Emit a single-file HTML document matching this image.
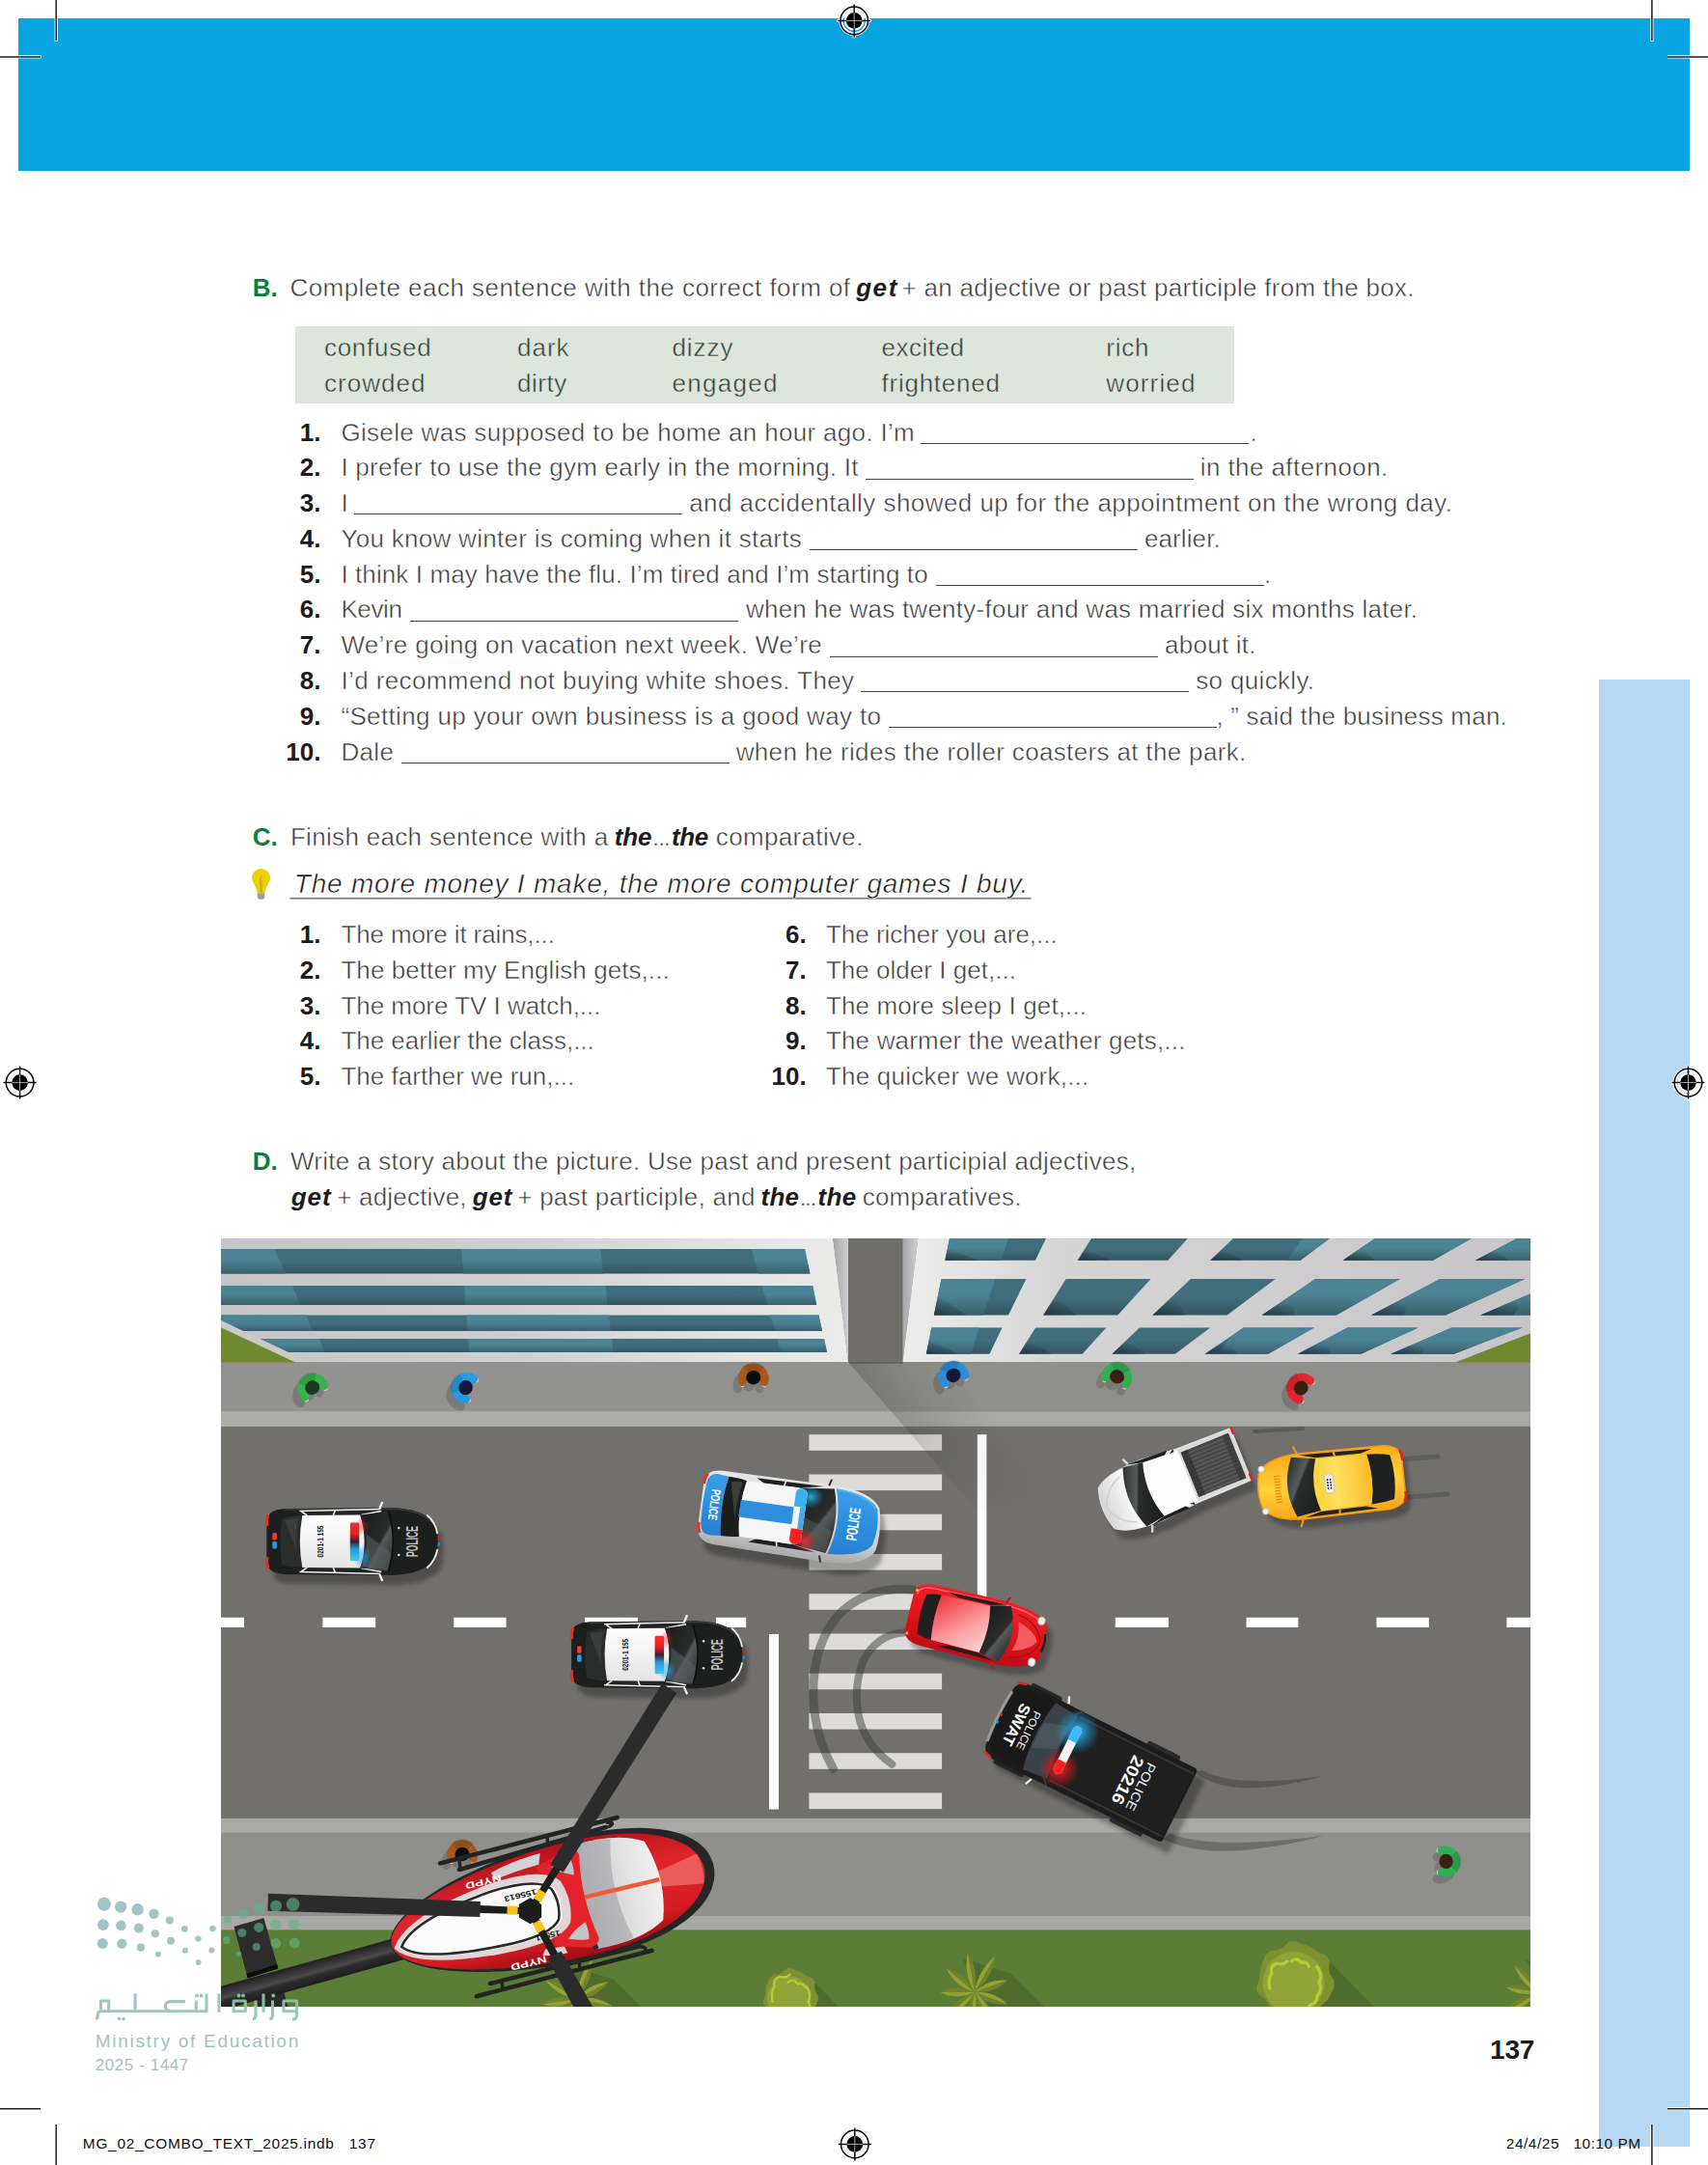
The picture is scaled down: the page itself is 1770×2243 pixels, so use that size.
<!DOCTYPE html>
<html lang="en">
<head>
<meta charset="utf-8">
<title>Page 137</title>
<style>
html,body{margin:0;padding:0;background:#fff;}
body{width:1770px;height:2243px;position:relative;overflow:hidden;font-family:"Liberation Sans",sans-serif;}
.abs{position:absolute;}
.t{position:absolute;white-space:pre;line-height:1;margin:0;padding:0;}
.bl{position:absolute;height:0;border-top:1.6px solid #444;}
.cm{position:absolute;background:#231f20;}
.r{font-size:26px;font-weight:400;font-style:normal;color:#3a3a3a;-webkit-text-stroke:0.45px #fff;}
.rb{font-size:26px;font-weight:400;font-style:normal;color:#3a3a3a;-webkit-text-stroke:0.45px #dce6da;}
.b{font-size:26px;font-weight:700;font-style:normal;color:#1c1c1c;}
.g{font-size:26px;font-weight:700;font-style:normal;color:#0b8035;}
.bi{font-size:26px;font-weight:700;font-style:italic;color:#1c1c1c;}
.hw{font-size:28px;font-weight:400;font-style:italic;color:#1a1a1a;-webkit-text-stroke:0.5px #fff;}
.ft{font-size:15.4px;font-weight:400;font-style:normal;color:#111;}
.pn{font-size:28px;font-weight:700;font-style:normal;color:#1c1c1c;}
.mn{font-size:19px;font-weight:400;font-style:normal;color:#9fc3c0;}
.mn2{font-size:17px;font-weight:400;font-style:normal;color:#9fc3c0;}
</style>
</head>
<body>
<!-- top banner -->
<div class="abs" style="left:19px;top:19px;width:1732px;height:158px;background:#08a5e2"></div>
<!-- side strip -->
<div class="abs" style="left:1656.5px;top:704px;width:94.5px;height:1520px;background:#b7d8f2"></div>
<!-- word box -->
<div class="abs" style="left:306px;top:338px;width:973px;height:80px;background:#dce6da"></div>
<svg class="abs" style="left:229px;top:1283px" width="1357" height="796" viewBox="229 1283 1357 796" font-family="Liberation Sans, sans-serif">
<defs>
<linearGradient id="fL" x1="0" y1="0" x2="1" y2="0"><stop offset="0" stop-color="#c6c5c6"/><stop offset="0.45" stop-color="#cfcecf"/><stop offset="0.8" stop-color="#e2e2e2"/><stop offset="1" stop-color="#ebebea"/></linearGradient>
<linearGradient id="fR" x1="0" y1="0" x2="1" y2="0"><stop offset="0" stop-color="#ededec"/><stop offset="0.25" stop-color="#d6d5d6"/><stop offset="1" stop-color="#c7c5c7"/></linearGradient>
<linearGradient id="wl" x1="0" y1="0" x2="1" y2="0"><stop offset="0" stop-color="#a6a6a8"/><stop offset="1" stop-color="#cfcfd1"/></linearGradient>
<linearGradient id="gl" x1="0" y1="0" x2="0" y2="1"><stop offset="0" stop-color="#4a8494"/><stop offset="0.45" stop-color="#4b8394"/><stop offset="1" stop-color="#3a5f6b"/></linearGradient>
<linearGradient id="gd" x1="0" y1="0" x2="0" y2="1"><stop offset="0" stop-color="#3f6f7e"/><stop offset="0.5" stop-color="#416d7c"/><stop offset="1" stop-color="#34555f"/></linearGradient>
<linearGradient id="shd" gradientUnits="userSpaceOnUse" x1="879" y1="1411" x2="936" y2="1362"><stop offset="0" stop-color="#000" stop-opacity="0.16"/><stop offset="0.5" stop-color="#000" stop-opacity="0.07"/><stop offset="1" stop-color="#000" stop-opacity="0"/></linearGradient>
<linearGradient id="shf" gradientUnits="userSpaceOnUse" x1="0" y1="1411" x2="0" y2="1620"><stop offset="0" stop-color="#fff" stop-opacity="1"/><stop offset="0.35" stop-color="#fff" stop-opacity="0.8"/><stop offset="0.75" stop-color="#fff" stop-opacity="0"/></linearGradient>
<mask id="shm" maskUnits="userSpaceOnUse" x="229" y="1283" width="1357" height="796"><rect x="229" y="1405" width="1357" height="230" fill="url(#shf)"/></mask>
<linearGradient id="wsd" x1="0" y1="1" x2="0.45" y2="0.2"><stop offset="0" stop-color="#1c3038" stop-opacity="0.8"/><stop offset="1" stop-color="#1c3038" stop-opacity="0"/></linearGradient>
<linearGradient id="roofW" x1="0" y1="0" x2="0" y2="1"><stop offset="0" stop-color="#ffffff"/><stop offset="1" stop-color="#e4e4e4"/></linearGradient>
<linearGradient id="wsh" x1="0" y1="0" x2="1" y2="1"><stop offset="0" stop-color="#1a1b1b"/><stop offset="0.55" stop-color="#2a2c2c"/><stop offset="0.6" stop-color="#555a5a"/><stop offset="1" stop-color="#232424"/></linearGradient>
<linearGradient id="lbar" x1="0" y1="0" x2="0" y2="1"><stop offset="0" stop-color="#ff2a2a"/><stop offset="0.3" stop-color="#e81c24"/><stop offset="0.5" stop-color="#3a2030"/><stop offset="0.7" stop-color="#1fa0dc"/><stop offset="1" stop-color="#45c4f5"/></linearGradient>
<linearGradient id="blu" x1="0" y1="0" x2="0" y2="1"><stop offset="0" stop-color="#3aa0e8"/><stop offset="0.5" stop-color="#2b8fe0"/><stop offset="1" stop-color="#2a7fd0"/></linearGradient>
<linearGradient id="silv" x1="0" y1="0" x2="0" y2="1"><stop offset="0" stop-color="#e6e6e6"/><stop offset="0.7" stop-color="#d0d0d0"/><stop offset="1" stop-color="#a8a8a8"/></linearGradient>
<linearGradient id="yel" x1="0" y1="0" x2="0" y2="1"><stop offset="0" stop-color="#f7a518"/><stop offset="0.5" stop-color="#ffd23c"/><stop offset="1" stop-color="#f9ab18"/></linearGradient>
<linearGradient id="yel2" x1="0" y1="0" x2="1" y2="0"><stop offset="0" stop-color="#fdbb28"/><stop offset="0.6" stop-color="#ffe060"/><stop offset="1" stop-color="#ffd23c"/></linearGradient>
<linearGradient id="red" x1="0" y1="0" x2="0" y2="1"><stop offset="0" stop-color="#f0202a"/><stop offset="0.5" stop-color="#e0141e"/><stop offset="1" stop-color="#c00c14"/></linearGradient>
<linearGradient id="redroof" x1="0" y1="0" x2="1" y2="1"><stop offset="0" stop-color="#f0303a"/><stop offset="0.6" stop-color="#fba0a4"/><stop offset="1" stop-color="#fdd8d8"/></linearGradient>
<linearGradient id="whiteh" x1="0" y1="0" x2="1" y2="0"><stop offset="0" stop-color="#ffffff"/><stop offset="1" stop-color="#d4d4d4"/></linearGradient>
<linearGradient id="boom" gradientUnits="userSpaceOnUse" x1="314.2" y1="2035.5" x2="320.6" y2="2058.6"><stop offset="0" stop-color="#232323"/><stop offset="0.45" stop-color="#4a4a4a"/><stop offset="0.6" stop-color="#2c2c2c"/><stop offset="1" stop-color="#1a1a1a"/></linearGradient>
<linearGradient id="hred" x1="0" y1="0" x2="0" y2="1"><stop offset="0" stop-color="#b5121a"/><stop offset="0.35" stop-color="#e0242c"/><stop offset="0.75" stop-color="#d81c24"/><stop offset="1" stop-color="#a00c14"/></linearGradient>
<linearGradient id="hglass" x1="0" y1="0" x2="1" y2="0"><stop offset="0" stop-color="#b8b8ba"/><stop offset="0.5" stop-color="#dcdcdc"/><stop offset="1" stop-color="#f2f2f2"/></linearGradient>
<radialGradient id="glowB"><stop offset="0" stop-color="#40c8ff" stop-opacity="0.95"/><stop offset="0.5" stop-color="#1fa0e0" stop-opacity="0.55"/><stop offset="1" stop-color="#1fa0e0" stop-opacity="0"/></radialGradient>
<radialGradient id="glowR"><stop offset="0" stop-color="#ff3030" stop-opacity="0.95"/><stop offset="0.5" stop-color="#e01818" stop-opacity="0.55"/><stop offset="1" stop-color="#e01818" stop-opacity="0"/></radialGradient>
<filter id="bl2" x="-20%" y="-20%" width="140%" height="140%"><feGaussianBlur stdDeviation="2"/></filter>
<filter id="bl4" x="-20%" y="-20%" width="140%" height="140%"><feGaussianBlur stdDeviation="3.5"/></filter>
<clipPath id="pc"><rect x="229" y="1283" width="1357" height="796"/></clipPath>
<clipPath id="rb"><polygon points="951.3,1283 1586,1283 1586,1381.5 1509,1411 935.5,1411"/></clipPath>
<clipPath id="lightR"><polygon points="1350,1283 1600,1283 1600,1420 1250,1420"/></clipPath>
<clipPath id="lightL"><polygon points="900,1283 1045,1283 1003,1412 900,1412"/></clipPath>
</defs>
<g clip-path="url(#pc)">
<rect x="229" y="1283" width="1357" height="796" fill="#71706d"/>
<rect x="229" y="1405" width="1357" height="57.3" fill="#8f8f8b"/>
<rect x="229" y="1462.3" width="1357" height="15.5" fill="#a8a8a4"/>
<rect x="229" y="1883.9" width="1357" height="15" fill="#a8a8a4"/>
<rect x="229" y="1898.9" width="1357" height="85.7" fill="#8f8f8b"/>
<rect x="229" y="1984.6" width="1357" height="15" fill="#a8a8a4"/>
<rect x="229" y="1999.6" width="1357" height="80" fill="#5b7d35"/>
<rect x="878" y="1283" width="58" height="130" fill="#6f6e6b"/>
<polygon points="229,1411 879,1411 924,1462.3 229,1462.3" fill="#929290"/>
<polygon points="924,1462.3 938,1477.8 229,1477.8 229,1462.3" fill="#acaca8"/>
<polygon points="229,1283 863.3,1283 879,1411 229,1411" fill="url(#fL)"/>
<polygon points="863.3,1283 879,1283 879,1411" fill="url(#wl)"/>
<polygon points="229,1294.1 834,1294.1 839.4,1319.6 229,1319.6" fill="url(#gd)"/>
<polygon points="229,1294.1 284.3,1294.1 296,1319.6 229,1319.6" fill="url(#gl)"/>
<polygon points="478.2,1294.1 622.4,1294.1 625,1319.6 480.2,1319.6" fill="url(#gl)"/>
<polygon points="779,1294.1 834,1294.1 839.4,1319.6 785.5,1319.6" fill="url(#gl)"/>
<polygon points="229,1332 842.2,1332 846.2,1352 229,1352" fill="url(#gd)"/>
<polygon points="229,1332 303,1332 311,1352 229,1352" fill="url(#gl)"/>
<polygon points="481,1332 627.4,1332 629.5,1352 482.5,1352" fill="url(#gl)"/>
<polygon points="789.5,1332 842.2,1332 846.2,1352 795.4,1352" fill="url(#gl)"/>
<polygon points="229,1362.5 848.5,1362.5 852,1378.9 229,1378.9" fill="url(#gd)"/>
<polygon points="229,1362.5 317,1362.5 324,1378.9 229,1378.9" fill="url(#gl)"/>
<polygon points="483.3,1362.5 631,1362.5 633,1378.9 484.8,1378.9" fill="url(#gl)"/>
<polygon points="798.4,1362.5 848.5,1362.5 852,1378.9 803.6,1378.9" fill="url(#gl)"/>
<polygon points="266,1387 854,1387 857,1401 297,1401" fill="url(#gd)"/>
<polygon points="266,1387 331,1387 336,1401 297,1401" fill="url(#gl)"/>
<polygon points="485.2,1387 634,1387 635.4,1401 486.3,1401" fill="url(#gl)"/>
<polygon points="805.4,1387 854,1387 857,1401 809.4,1401" fill="url(#gl)"/>
<polygon points="229,1368 320,1411 229,1411" fill="#cbcacb"/>
<polygon points="229,1375.2 306.3,1411.5 229,1411.5" fill="#6f8a2e"/>
<polygon points="935.5,1283 951.3,1283 935.5,1411" fill="url(#wl)"/>
<polygon points="951.3,1283 1586,1283 1586,1381.5 1509,1411 935.5,1411" fill="url(#fR)"/>
<polygon points="1509,1411.5 1586,1381.5 1586,1411.5" fill="#6f8a2e"/>
<g clip-path="url(#rb)">
<g fill="url(#gd)"><polygon points="984.0,1283 1084.0,1283 1072.9,1305.7 979.4,1305.7"/><polygon points="975.5,1325 1063.4,1325 1045.0,1362.6 967.9,1362.6"/><polygon points="965.3,1375.6 1038.6,1375.6 1025.4,1402.7 959.9,1402.7"/><polygon points="1131.0,1283 1231.0,1283 1210.3,1305.7 1116.8,1305.7"/><polygon points="1104.7,1325 1192.6,1325 1158.3,1362.6 1081.2,1362.6"/><polygon points="1073.1,1375.6 1146.4,1375.6 1121.6,1402.7 1056.1,1402.7"/><polygon points="1278.0,1283 1378.0,1283 1347.6,1305.7 1254.2,1305.7"/><polygon points="1233.9,1325 1321.8,1325 1271.6,1362.6 1194.5,1362.6"/><polygon points="1180.9,1375.6 1254.2,1375.6 1217.9,1402.7 1152.4,1402.7"/><polygon points="1425.0,1283 1525.0,1283 1485.0,1305.7 1391.6,1305.7"/><polygon points="1363.1,1325 1451.0,1325 1384.8,1362.6 1307.8,1362.6"/><polygon points="1288.6,1375.6 1361.9,1375.6 1314.2,1402.7 1248.7,1402.7"/><polygon points="1572.0,1283 1672.0,1283 1622.4,1305.7 1529.0,1305.7"/><polygon points="1492.4,1325 1580.3,1325 1498.1,1362.6 1421.1,1362.6"/><polygon points="1396.4,1375.6 1469.7,1375.6 1410.5,1402.7 1345.0,1402.7"/><polygon points="1719.0,1283 1819.0,1283 1759.8,1305.7 1666.3,1305.7"/><polygon points="1621.6,1325 1709.5,1325 1611.4,1362.6 1534.3,1362.6"/><polygon points="1504.2,1375.6 1577.5,1375.6 1506.8,1402.7 1441.3,1402.7"/><polygon points="1866.0,1283 1966.0,1283 1897.2,1305.7 1803.7,1305.7"/><polygon points="1750.8,1325 1838.7,1325 1724.7,1362.6 1647.6,1362.6"/><polygon points="1612.0,1375.6 1685.3,1375.6 1603.1,1402.7 1537.6,1402.7"/><polygon points="2013.0,1283 2113.0,1283 2034.6,1305.7 1941.1,1305.7"/><polygon points="1880.0,1325 1967.9,1325 1838.0,1362.6 1760.9,1362.6"/><polygon points="1719.7,1375.6 1793.0,1375.6 1699.4,1402.7 1633.9,1402.7"/><polygon points="2160.0,1283 2260.0,1283 2171.9,1305.7 2078.5,1305.7"/><polygon points="2009.2,1325 2097.1,1325 1951.2,1362.6 1874.2,1362.6"/><polygon points="1827.5,1375.6 1900.8,1375.6 1795.7,1402.7 1730.2,1402.7"/></g>
<g clip-path="url(#lightR)" fill="url(#gl)"><polygon points="984.0,1283 1084.0,1283 1072.9,1305.7 979.4,1305.7"/><polygon points="975.5,1325 1063.4,1325 1045.0,1362.6 967.9,1362.6"/><polygon points="965.3,1375.6 1038.6,1375.6 1025.4,1402.7 959.9,1402.7"/><polygon points="1131.0,1283 1231.0,1283 1210.3,1305.7 1116.8,1305.7"/><polygon points="1104.7,1325 1192.6,1325 1158.3,1362.6 1081.2,1362.6"/><polygon points="1073.1,1375.6 1146.4,1375.6 1121.6,1402.7 1056.1,1402.7"/><polygon points="1278.0,1283 1378.0,1283 1347.6,1305.7 1254.2,1305.7"/><polygon points="1233.9,1325 1321.8,1325 1271.6,1362.6 1194.5,1362.6"/><polygon points="1180.9,1375.6 1254.2,1375.6 1217.9,1402.7 1152.4,1402.7"/><polygon points="1425.0,1283 1525.0,1283 1485.0,1305.7 1391.6,1305.7"/><polygon points="1363.1,1325 1451.0,1325 1384.8,1362.6 1307.8,1362.6"/><polygon points="1288.6,1375.6 1361.9,1375.6 1314.2,1402.7 1248.7,1402.7"/><polygon points="1572.0,1283 1672.0,1283 1622.4,1305.7 1529.0,1305.7"/><polygon points="1492.4,1325 1580.3,1325 1498.1,1362.6 1421.1,1362.6"/><polygon points="1396.4,1375.6 1469.7,1375.6 1410.5,1402.7 1345.0,1402.7"/><polygon points="1719.0,1283 1819.0,1283 1759.8,1305.7 1666.3,1305.7"/><polygon points="1621.6,1325 1709.5,1325 1611.4,1362.6 1534.3,1362.6"/><polygon points="1504.2,1375.6 1577.5,1375.6 1506.8,1402.7 1441.3,1402.7"/><polygon points="1866.0,1283 1966.0,1283 1897.2,1305.7 1803.7,1305.7"/><polygon points="1750.8,1325 1838.7,1325 1724.7,1362.6 1647.6,1362.6"/><polygon points="1612.0,1375.6 1685.3,1375.6 1603.1,1402.7 1537.6,1402.7"/><polygon points="2013.0,1283 2113.0,1283 2034.6,1305.7 1941.1,1305.7"/><polygon points="1880.0,1325 1967.9,1325 1838.0,1362.6 1760.9,1362.6"/><polygon points="1719.7,1375.6 1793.0,1375.6 1699.4,1402.7 1633.9,1402.7"/><polygon points="2160.0,1283 2260.0,1283 2171.9,1305.7 2078.5,1305.7"/><polygon points="2009.2,1325 2097.1,1325 1951.2,1362.6 1874.2,1362.6"/><polygon points="1827.5,1375.6 1900.8,1375.6 1795.7,1402.7 1730.2,1402.7"/></g>
<g clip-path="url(#lightL)" fill="url(#gl)"><polygon points="984.0,1283 1084.0,1283 1072.9,1305.7 979.4,1305.7"/><polygon points="975.5,1325 1063.4,1325 1045.0,1362.6 967.9,1362.6"/><polygon points="965.3,1375.6 1038.6,1375.6 1025.4,1402.7 959.9,1402.7"/></g>
<g fill="url(#wsd)"><polygon points="979.4,1305.7 1013.4,1305.7 981.9,1293.2"/><polygon points="967.9,1362.6 1001.9,1362.6 972.1,1341.9"/><polygon points="959.9,1402.7 993.9,1402.7 962.9,1387.8"/><polygon points="1116.8,1305.7 1150.8,1305.7 1124.6,1293.2"/><polygon points="1081.2,1362.6 1115.2,1362.6 1094.2,1341.9"/><polygon points="1056.1,1402.7 1090.1,1402.7 1065.5,1387.8"/><polygon points="1254.2,1305.7 1288.2,1305.7 1267.3,1293.2"/><polygon points="1194.5,1362.6 1228.5,1362.6 1216.2,1341.9"/><polygon points="1152.4,1402.7 1186.4,1402.7 1168.1,1387.8"/><polygon points="1391.6,1305.7 1425.6,1305.7 1410.0,1293.2"/><polygon points="1307.8,1362.6 1341.8,1362.6 1338.2,1341.9"/><polygon points="1248.7,1402.7 1282.7,1402.7 1270.7,1387.8"/><polygon points="1529.0,1305.7 1563.0,1305.7 1552.6,1293.2"/><polygon points="1421.1,1362.6 1455.1,1362.6 1460.3,1341.9"/><polygon points="1345.0,1402.7 1379.0,1402.7 1373.3,1387.8"/><polygon points="1666.3,1305.7 1700.3,1305.7 1695.3,1293.2"/><polygon points="1534.3,1362.6 1568.3,1362.6 1582.3,1341.9"/><polygon points="1441.3,1402.7 1475.3,1402.7 1475.9,1387.8"/><polygon points="1803.7,1305.7 1837.7,1305.7 1838.0,1293.2"/><polygon points="1647.6,1362.6 1681.6,1362.6 1704.4,1341.9"/><polygon points="1537.6,1402.7 1571.6,1402.7 1578.5,1387.8"/><polygon points="1941.1,1305.7 1975.1,1305.7 1980.6,1293.2"/><polygon points="1760.9,1362.6 1794.9,1362.6 1826.4,1341.9"/><polygon points="1633.9,1402.7 1667.9,1402.7 1681.1,1387.8"/><polygon points="2078.5,1305.7 2112.5,1305.7 2123.3,1293.2"/><polygon points="1874.2,1362.6 1908.2,1362.6 1948.4,1341.9"/><polygon points="1730.2,1402.7 1764.2,1402.7 1783.7,1387.8"/></g>
</g>
<rect x="229" y="1675.8" width="24.0" height="10.2" fill="#fff"/>
<rect x="334.4" y="1675.8" width="54.8" height="10.2" fill="#fff"/>
<rect x="470.3" y="1675.8" width="54.3" height="10.2" fill="#fff"/>
<rect x="606" y="1675.8" width="55.0" height="10.2" fill="#fff"/>
<rect x="742" y="1675.8" width="31.2" height="10.2" fill="#fff"/>
<rect x="1155.8" y="1675.8" width="55.2" height="10.2" fill="#fff"/>
<rect x="1291.6" y="1675.8" width="53.8" height="10.2" fill="#fff"/>
<rect x="1426.5" y="1675.8" width="54.3" height="10.2" fill="#fff"/>
<rect x="1561.4" y="1675.8" width="24.6" height="10.2" fill="#fff"/>
<rect x="838.4" y="1486.2" width="137.7" height="16.6" fill="#dddcda"/>
<rect x="838.4" y="1527.5" width="137.7" height="16.6" fill="#dddcda"/>
<rect x="838.4" y="1568.7" width="137.7" height="16.6" fill="#dddcda"/>
<rect x="838.4" y="1610.0" width="137.7" height="16.6" fill="#dddcda"/>
<rect x="838.4" y="1651.2" width="137.7" height="16.6" fill="#dddcda"/>
<rect x="838.4" y="1692.5" width="137.7" height="16.6" fill="#dddcda"/>
<rect x="838.4" y="1733.7" width="137.7" height="16.6" fill="#dddcda"/>
<rect x="838.4" y="1775.0" width="137.7" height="16.6" fill="#dddcda"/>
<rect x="838.4" y="1816.2" width="137.7" height="16.6" fill="#dddcda"/>
<rect x="838.4" y="1857.5" width="137.7" height="16.6" fill="#dddcda"/>
<rect x="1012.8" y="1486.2" width="9.6" height="172" fill="#fff"/>
<rect x="797" y="1693" width="10" height="181.5" fill="#fff"/>
<polygon points="879,1411 1120,1411 1300,1620 1060,1620" fill="url(#shd)" mask="url(#shm)"/>
<path d="M946,1647 C915,1643 880,1655 862,1682 C846,1706 842,1735 843,1760 C844,1790 852,1812 863.6,1832.6" fill="none" stroke="#3c3c3a" stroke-opacity="0.5" stroke-width="9" stroke-linecap="round"/>
<path d="M937,1691.5 C918,1692 902,1704 894,1722 C888,1738 887,1752 888.2,1766 C890,1790 902,1812 924.3,1827.7" fill="none" stroke="#3c3c3a" stroke-opacity="0.5" stroke-width="8" stroke-linecap="round"/>
<path d="M1238,1836 C1270,1862 1330,1852 1370,1840 C1330,1846 1275,1850 1245,1834 Z" fill="#3c3c3a" fill-opacity="0.45"/>
<path d="M1205,1905 C1250,1928 1320,1915 1372,1902 C1320,1908 1255,1915 1212,1900 Z" fill="#3c3c3a" fill-opacity="0.4"/>
<path d="M1300,1483 L1350,1480" stroke="#3c3c3a" stroke-opacity="0.4" stroke-width="4" stroke-linecap="round"/>
<path d="M1440,1513 L1490,1509 M1445,1552 L1500,1548" stroke="#3c3c3a" stroke-opacity="0.35" stroke-width="5" stroke-linecap="round"/>
<g transform="translate(365.3,1597) rotate(0)">
<path d="M-89,-20 Q-89,-33 -70,-34 L40,-35 Q74,-34 86,-18 Q91,0 86,18 Q74,34 40,35 L-70,34 Q-89,33 -89,20 Z" transform="translate(6,10)" fill="#000" fill-opacity="0.3" filter="url(#bl2)"/>
<path d="M-89,-20 Q-89,-33 -70,-34 L40,-35 Q74,-34 86,-18 Q91,0 86,18 Q74,34 40,35 L-70,34 Q-89,33 -89,20 Z" fill="#1d1e1e"/>
<path d="M-70,-33 L40,-34 Q72,-33 84,-18" fill="none" stroke="#3a3b3b" stroke-width="1.5"/>
<path d="M-73,-24 Q-62,-27 -52,-27 Q-57,0 -52,27 Q-62,27 -73,24 Q-77,0 -73,-24 Z" fill="#2b2d2d"/>
<path d="M-70,-22 Q-62,-24 -56,-24 Q-59,-5 -58,10 Z" fill="#3a3d3d"/>
<path d="M-53,-31 L30,-33 L8,-27 L-50,-27 Z M-53,31 L30,33 L8,27 L-50,27 Z" fill="#232525"/>
<path d="M-55,-31.5 L29,-33.5 M-53,-31 L-47,-27 M-18,-32 L-20,-27 M9,-27.5 L30,-31.5 M-55,31.5 L29,33.5 M-53,31 L-47,27 M-18,32 L-20,27 M9,27.5 L30,31.5" stroke="#efefef" stroke-width="1.6" fill="none"/>
<path d="M-52,-27 L8,-27.5 Q17,0 8,27.5 L-52,27 Q-57,0 -52,-27 Z" fill="url(#roofW)"/>
<path d="M8,-27.5 Q17,0 8,27.5 L37,31 Q47,0 37,-31 Z" fill="url(#wsh)"/>
<path d="M14,-8 L40,12 L37,30 L10,26 Q16,8 14,-8 Z" fill="#5a6060" fill-opacity="0.55"/>
<path d="M37,-31 Q47,0 37,31" fill="none" stroke="#0e0e0e" stroke-width="1.5"/>
<ellipse cx="10" cy="16" rx="9" ry="12" fill="url(#glowB)" opacity="0.7"/>
<ellipse cx="10" cy="-16" rx="7" ry="10" fill="url(#glowR)" opacity="0.5"/>
<rect x="-2.5" y="-19.5" width="9.5" height="39.5" rx="1.5" fill="url(#lbar)"/>
<text transform="translate(-30,0) rotate(-90)" text-anchor="middle" font-size="9.5" font-weight="700" fill="#111" textLength="33" lengthAdjust="spacingAndGlyphs">0201-1 155</text>
<text transform="translate(68,0) rotate(-90)" text-anchor="middle" font-size="16" font-weight="700" fill="#c4c4c4" textLength="32" lengthAdjust="spacingAndGlyphs">POLICE</text>
<circle cx="48" cy="-14" r="1.3" fill="#ddd"/><circle cx="48" cy="14" r="1.3" fill="#ddd"/>
<path d="M77,-27.5 Q86,-20 88,-8 M77,27.5 Q86,20 88,8" fill="none" stroke="#ececec" stroke-width="1.8"/>
<rect x="88.5" y="-5" width="2" height="4" fill="#e02020"/><rect x="88.5" y="1" width="2" height="4" fill="#2090e0"/>
<path d="M28,-34 L31,-41 M28,34 L31,41" stroke="#f2f2f2" stroke-width="2.2"/>
<path d="M-87.5,-28 Q-89.5,-22 -88.5,-16 M-87.5,28 Q-89.5,22 -88.5,16" fill="none" stroke="#e8301c" stroke-width="3.2"/>
<rect x="-83" y="-9" width="4.5" height="7.5" rx="1.5" fill="#f03a30"/><rect x="-83" y="0" width="4.5" height="7.5" rx="1.5" fill="#2a9ae6"/>
</g>
<g transform="translate(681.1,1714.3) rotate(0)">
<path d="M-89,-20 Q-89,-33 -70,-34 L40,-35 Q74,-34 86,-18 Q91,0 86,18 Q74,34 40,35 L-70,34 Q-89,33 -89,20 Z" transform="translate(6,10)" fill="#000" fill-opacity="0.3" filter="url(#bl2)"/>
<path d="M-89,-20 Q-89,-33 -70,-34 L40,-35 Q74,-34 86,-18 Q91,0 86,18 Q74,34 40,35 L-70,34 Q-89,33 -89,20 Z" fill="#1d1e1e"/>
<path d="M-70,-33 L40,-34 Q72,-33 84,-18" fill="none" stroke="#3a3b3b" stroke-width="1.5"/>
<path d="M-73,-24 Q-62,-27 -52,-27 Q-57,0 -52,27 Q-62,27 -73,24 Q-77,0 -73,-24 Z" fill="#2b2d2d"/>
<path d="M-70,-22 Q-62,-24 -56,-24 Q-59,-5 -58,10 Z" fill="#3a3d3d"/>
<path d="M-53,-31 L30,-33 L8,-27 L-50,-27 Z M-53,31 L30,33 L8,27 L-50,27 Z" fill="#232525"/>
<path d="M-55,-31.5 L29,-33.5 M-53,-31 L-47,-27 M-18,-32 L-20,-27 M9,-27.5 L30,-31.5 M-55,31.5 L29,33.5 M-53,31 L-47,27 M-18,32 L-20,27 M9,27.5 L30,31.5" stroke="#efefef" stroke-width="1.6" fill="none"/>
<path d="M-52,-27 L8,-27.5 Q17,0 8,27.5 L-52,27 Q-57,0 -52,-27 Z" fill="url(#roofW)"/>
<path d="M8,-27.5 Q17,0 8,27.5 L37,31 Q47,0 37,-31 Z" fill="url(#wsh)"/>
<path d="M14,-8 L40,12 L37,30 L10,26 Q16,8 14,-8 Z" fill="#5a6060" fill-opacity="0.55"/>
<path d="M37,-31 Q47,0 37,31" fill="none" stroke="#0e0e0e" stroke-width="1.5"/>
<ellipse cx="10" cy="16" rx="9" ry="12" fill="url(#glowB)" opacity="0.7"/>
<ellipse cx="10" cy="-16" rx="7" ry="10" fill="url(#glowR)" opacity="0.5"/>
<rect x="-2.5" y="-19.5" width="9.5" height="39.5" rx="1.5" fill="url(#lbar)"/>
<text transform="translate(-30,0) rotate(-90)" text-anchor="middle" font-size="9.5" font-weight="700" fill="#111" textLength="33" lengthAdjust="spacingAndGlyphs">0201-1 155</text>
<text transform="translate(68,0) rotate(-90)" text-anchor="middle" font-size="16" font-weight="700" fill="#c4c4c4" textLength="32" lengthAdjust="spacingAndGlyphs">POLICE</text>
<circle cx="48" cy="-14" r="1.3" fill="#ddd"/><circle cx="48" cy="14" r="1.3" fill="#ddd"/>
<path d="M77,-27.5 Q86,-20 88,-8 M77,27.5 Q86,20 88,8" fill="none" stroke="#ececec" stroke-width="1.8"/>
<rect x="88.5" y="-5" width="2" height="4" fill="#e02020"/><rect x="88.5" y="1" width="2" height="4" fill="#2090e0"/>
<path d="M28,-34 L31,-41 M28,34 L31,41" stroke="#f2f2f2" stroke-width="2.2"/>
<path d="M-87.5,-28 Q-89.5,-22 -88.5,-16 M-87.5,28 Q-89.5,22 -88.5,16" fill="none" stroke="#e8301c" stroke-width="3.2"/>
<rect x="-83" y="-9" width="4.5" height="7.5" rx="1.5" fill="#f03a30"/><rect x="-83" y="0" width="4.5" height="7.5" rx="1.5" fill="#2a9ae6"/>
</g>
<g transform="translate(819.5,1570) rotate(8)">
<path d="M-94,-22 Q-94,-35 -76,-36 L42,-37 Q80,-36 90,-20 Q96,2 92,24 Q84,42 44,43 L-76,41 Q-93,40 -94,24 Z" transform="translate(7,11)" fill="#000" fill-opacity="0.3" filter="url(#bl2)"/>
<path d="M-94,-22 Q-94,-35 -76,-36 L42,-37 Q80,-36 90,-20 Q96,2 92,24 Q84,42 44,43 L-76,41 Q-93,40 -94,24 Z" fill="url(#silv)"/>
<path d="M-91,-22 Q-90,-32 -80,-32 L-69,-31 Q-75,0 -69,31 L-80,32 Q-90,32 -91,22 Q-93,0 -91,-22 Z" fill="url(#blu)"/>
<text transform="translate(-84.5,0) rotate(90)" text-anchor="middle" font-size="13" font-weight="700" fill="#fff" textLength="32" lengthAdjust="spacingAndGlyphs">POLICE</text>
<path d="M-91,-31 Q-94,-26 -93.5,-20 M-91,31 Q-94,26 -93.5,20" fill="none" stroke="#e8301c" stroke-width="3"/>
<path d="M-69,-31 Q-58,-31 -50,-29 Q-56,0 -50,29 Q-58,31 -69,31 Q-75,0 -69,-31 Z" fill="#1c1d1d"/>
<path d="M-66,-26 Q-58,-28 -54,-27 Q-58,-5 -57,12 Z" fill="#3a3d3d"/>
<path d="M-40,-33.5 L30,-34.5 L6,-29.5 L-32,-29 Z M-40,33.5 L30,34.5 L6,29.5 L-32,29 Z" fill="#1f2121"/>
<path d="M-10,-34 L-11,-29 M-10,34 L-11,29" stroke="#e8e8e8" stroke-width="1.6"/>
<path d="M-50,-29 L4,-29.5 Q11,0 4,29.5 L-50,29 Q-56,0 -50,-29 Z" fill="#f6f6f6"/>
<rect x="-53.5" y="-9" width="58" height="18" fill="#2e8fe0"/>
<path d="M6,-29.5 Q13,0 6,29.5 L41,33.5 Q52,0 41,-33.5 Z" fill="url(#wsh)"/>
<path d="M14,0 L44,10 L41,32.5 L10,28 Q15,12 14,0 Z" fill="#5a6060" fill-opacity="0.5"/>
<path d="M43,-34 Q78,-33 88,-19 Q93,0 88,19 Q78,33 43,34 Q54,0 43,-34 Z" fill="url(#blu)"/>
<path d="M45,-33 Q76,-32 86,-19" fill="none" stroke="#5ab4f0" stroke-width="1.5"/>
<text transform="translate(71,0) rotate(-90)" text-anchor="middle" font-size="16" font-weight="700" fill="#fff" textLength="34" lengthAdjust="spacingAndGlyphs">POLICE</text>
<ellipse cx="18" cy="-22" rx="13" ry="12" fill="url(#glowB)" opacity="0.85"/>
<ellipse cx="18" cy="24" rx="13" ry="12" fill="url(#glowR)" opacity="0.85"/>
<rect x="2" y="-29" width="12" height="58" rx="5.5" fill="#f4f4f4"/>
<path d="M2,-23.5 Q2,-29 8,-29 Q14,-29 14,-23.5 L14,-10 L2,-10 Z" fill="#38b0f0"/>
<path d="M2,23.5 Q2,29 8,29 Q14,29 14,23.5 L14,13 L2,13 Z" fill="#f02222"/>
<rect x="8.5" y="-10" width="5.5" height="23" fill="#49a8ea"/>
<path d="M35,-36 L37,-43 M35,37 L37,44" stroke="#333" stroke-width="2"/>
</g>
<g transform="translate(1214,1535.5) rotate(158)">
<path d="M-78,-29.5 L-18,-30.5 L22,-34 Q60,-34 73,-23 Q81,0 73,23 Q60,34 22,34 L-18,30.5 L-78,29.5 Z" transform="translate(-2.2,-10.6)" fill="#000" fill-opacity="0.28" filter="url(#bl2)"/>
<path d="M-78,-29.5 L-18,-30.5 L22,-34 Q60,-34 73,-23 Q81,0 73,23 Q60,34 22,34 L-18,30.5 L-78,29.5 Z" fill="#e4e4e4"/>
<path d="M40,-32 Q62,-32 72,-23 Q80,0 72,23 Q62,32 40,32 Q53,0 40,-32 Z" fill="url(#whiteh)"/>
<path d="M48,-25 Q66,-19 72,0 Q66,19 48,25" fill="none" stroke="#cfcfcf" stroke-width="1.5"/>
<rect x="-77" y="-28.5" width="59" height="57" fill="#dadada"/>
<rect x="-73.5" y="-25" width="53" height="50" fill="#474747"/>
<rect x="-73.5" y="-23.5" width="53" height="1.5" fill="#5c5c5c"/>
<rect x="-73.5" y="-19.5" width="53" height="1.5" fill="#5c5c5c"/>
<rect x="-73.5" y="-15.5" width="53" height="1.5" fill="#5c5c5c"/>
<rect x="-73.5" y="-11.5" width="53" height="1.5" fill="#5c5c5c"/>
<rect x="-73.5" y="-7.5" width="53" height="1.5" fill="#5c5c5c"/>
<rect x="-73.5" y="-3.5" width="53" height="1.5" fill="#5c5c5c"/>
<rect x="-73.5" y="0.5" width="53" height="1.5" fill="#5c5c5c"/>
<rect x="-73.5" y="4.5" width="53" height="1.5" fill="#5c5c5c"/>
<rect x="-73.5" y="8.5" width="53" height="1.5" fill="#5c5c5c"/>
<rect x="-73.5" y="12.5" width="53" height="1.5" fill="#5c5c5c"/>
<rect x="-73.5" y="16.5" width="53" height="1.5" fill="#5c5c5c"/>
<rect x="-73.5" y="20.5" width="53" height="1.5" fill="#5c5c5c"/>
<rect x="-73.5" y="-25" width="7" height="50" fill="#333" fill-opacity="0.55"/>
<rect x="-28" y="-25" width="7.5" height="50" fill="#2c2c2c" fill-opacity="0.6"/>
<path d="M-18,-28.5 L20,-30 Q30,0 20,30 L-18,28.5 Z" fill="#fcfcfc"/>
<path d="M20,-30 Q30,0 20,30 L41,33 Q54,0 41,-33 Z" fill="url(#wsh)"/>
<path d="M-8,-32 L37,-34 L20,-30 L-4,-28.5 Z M-8,32 L37,34 L20,30 L-4,28.5 Z" fill="#1d1e1e"/>
<path d="M-14,-31 L-9,-28 L-14,-28 Z M-14,31 L-9,28 L-14,28 Z" fill="#1d1e1e"/>
<path d="M35,-34 L38,-41 M35,34 L38,41" stroke="#d8d8d8" stroke-width="2.4"/>
<rect x="-79.5" y="-30" width="2.5" height="8" fill="#d8281c"/><rect x="-79.5" y="22" width="2.5" height="8" fill="#d8281c"/>
</g>
<g transform="translate(1379,1536.7) rotate(174)">
<path d="M-76,-18 Q-76,-31 -58,-33 L30,-34 Q64,-33 73,-18 Q78,0 73,18 Q64,33 30,34 L-58,33 Q-76,31 -76,18 Z" transform="translate(-5.0,-9.6)" fill="#000" fill-opacity="0.28" filter="url(#bl2)"/>
<path d="M-76,-18 Q-76,-31 -58,-33 L30,-34 Q64,-33 73,-18 Q78,0 73,18 Q64,33 30,34 L-58,33 Q-76,31 -76,18 Z" fill="url(#yel)"/>
<path d="M-76,-18 Q-76,-31 -58,-33 L30,-34 Q64,-33 73,-18 Q78,0 73,18 Q64,33 30,34 L-58,33 Q-76,31 -76,18 Z" fill="none" stroke="#f59a10" stroke-width="1.5"/>
<path d="M-64,-23 Q-52,-26 -40,-26 Q-46,0 -40,26 Q-52,26 -64,23 Q-69,0 -64,-23 Z" fill="#1f2020"/>
<path d="M-40,-26 L13,-27 Q22,0 13,27 L-40,26 Q-46,0 -40,-26 Z" fill="url(#yel2)"/>
<path d="M13,-27 Q22,0 13,27 L38,31 Q52,0 38,-31 Z" fill="url(#wsh)"/>
<path d="M-46,-31 L30,-32.5 L13,-28 L-34,-27.5 Z M-46,31 L30,32.5 L13,28 L-34,27.5 Z" fill="#222"/>
<path d="M-6,-32 L-7,-27.5 M-6,32 L-7,27.5" stroke="#f7a518" stroke-width="2"/>
<rect x="-3" y="-10" width="9" height="20" rx="4" fill="#f4f4f4" stroke="#bbb" stroke-width="0.8"/>
<path d="M0,-6 L0,6 M3,-6 L3,6" stroke="#222" stroke-width="1.5" stroke-dasharray="2 1"/>
<path d="M52,-14 L58,-14 M52,-11 L58,-11 M52,-8 L58,-8 M52,-5 L58,-5 M52,-2 L58,-2 M52,1 L58,1 M52,4 L58,4 M52,7 L58,7 M52,10 L58,10 M52,13 L58,13" stroke="#f08a10" stroke-width="1.4"/>
<circle cx="70" cy="-22" r="3.2" fill="#f4f4f4" stroke="#bbb" stroke-width="0.8"/><circle cx="70" cy="22" r="3.2" fill="#f4f4f4" stroke="#bbb" stroke-width="0.8"/>
<path d="M-74.5,-27 Q-77,-22 -76.5,-16 M-74.5,27 Q-77,22 -76.5,16" fill="none" stroke="#d8281c" stroke-width="3"/>
<path d="M32,-34 L35,-42 M32,34 L35,42" stroke="#e89a10" stroke-width="2.2"/>
</g>
<g transform="translate(1013,1686) rotate(13.5) scale(0.955)">
<path d="M-76,-19 Q-76,-33 -56,-34 L20,-35 Q60,-34 72,-21 Q78,0 72,21 Q60,34 20,35 L-56,34 Q-76,33 -76,19 Z" transform="translate(7.9,7.4)" fill="#000" fill-opacity="0.28" filter="url(#bl2)"/>
<path d="M-76,-19 Q-76,-33 -56,-34 L20,-35 Q60,-34 72,-21 Q78,0 72,21 Q60,34 20,35 L-56,34 Q-76,33 -76,19 Z" fill="url(#red)"/>
<path d="M-72,-20 Q-72,-29 -56,-30 L20,-31 Q56,-30 68,-20" fill="none" stroke="#ff7a7a" stroke-width="1.5" stroke-opacity="0.8"/>
<path d="M-62,-22 Q-54,-25 -46,-25 Q-50,0 -46,25 Q-54,25 -62,22 Q-66,0 -62,-22 Z" fill="#1f2020"/>
<path d="M-46,-25 L8,-26 Q15,0 8,26 L-46,25 Q-50,0 -46,-25 Z" fill="url(#redroof)"/>
<path d="M8,-26 Q14,0 8,26 L30,31 Q46,0 30,-31 Z" fill="url(#wsh)"/>
<path d="M-40,-30 L26,-31.5 L8,-27 L-26,-26.5 Z M-40,30 L26,31.5 L8,27 L-26,26.5 Z" fill="#2a1c1c"/>
<path d="M42,-16 Q62,-10 66,0 Q62,10 42,16 Q48,0 42,-16 Z" fill="#f86a70" fill-opacity="0.85"/>
<path d="M40,-24 Q64,-20 70,0 Q64,20 40,24" fill="none" stroke="#a80c12" stroke-width="1.2"/>
<ellipse cx="66" cy="-23" rx="4" ry="4.5" fill="#f0f0e8" stroke="#999" stroke-width="0.8"/><ellipse cx="66" cy="23" rx="4" ry="4.5" fill="#f0f0e8" stroke="#999" stroke-width="0.8"/>
<path d="M73,-10 Q76,0 73,10" stroke="#1a1a1a" stroke-width="2.5" fill="none"/>
<path d="M24,-32 L27,-40 M24,32 L27,40" stroke="#c8141c" stroke-width="2.4"/>
<circle cx="-73" cy="-24" r="1.6" fill="#f8b040"/><circle cx="-73" cy="24" r="1.6" fill="#f8b040"/>
</g>
<g transform="translate(1129,1824.5) rotate(206.5) scale(1.035)">
<path d="M-101,-38 Q-101,-41 -97,-41 L86,-41.5 Q99,-41 100.5,-30 Q103,0 100.5,30 Q99,41 86,41.5 L-97,41 Q-101,41 -101,38 Z" transform="translate(-11.2,-6.7)" fill="#000" fill-opacity="0.3" filter="url(#bl2)"/>
<rect x="-80" y="-45" width="36" height="90" rx="2" fill="#2a2a2a"/><rect x="52" y="-45" width="34" height="90" rx="3" fill="#262626"/>
<path d="M-101,-38 Q-101,-41 -97,-41 L86,-41.5 Q99,-41 100.5,-30 Q103,0 100.5,30 Q99,41 86,41.5 L-97,41 Q-101,41 -101,38 Z" fill="#1d1d1e"/>
<path d="M-99,-35 L28,-35 M-99,35 L28,35" stroke="#343435" stroke-width="2"/>
<rect x="-99" y="-33" width="125" height="66" fill="#202021"/>
<path d="M30,-35 Q36,0 30,35 L56,37 Q64,0 56,-37 Z" fill="#39424a"/>
<path d="M34,-4 L58,-14 L58,14 L34,22 Z" fill="#5c666c" fill-opacity="0.5"/>
<path d="M28,-41 L34,-35 M28,41 L34,35" stroke="#3a3a3b" stroke-width="2"/>
<path d="M58,-37 Q64,0 58,37 L84,37 Q95,36 96.5,28 Q99,0 96.5,-28 Q95,-36 84,-37 Z" fill="#19191a"/>
<text transform="translate(72,0) rotate(-90)" text-anchor="middle" font-size="11" fill="#f2f2f2" textLength="42" lengthAdjust="spacingAndGlyphs">POLICE</text>
<text transform="translate(87,0) rotate(-90)" text-anchor="middle" font-size="15.5" font-weight="700" fill="#fff" textLength="45" lengthAdjust="spacingAndGlyphs">SWAT</text>
<path d="M100.5,-28 Q103.5,0 100.5,28" stroke="#9a9a9c" stroke-width="3" fill="none"/>
<circle cx="100" cy="-6" r="1.5" fill="#2a8ae0"/><circle cx="100" cy="2" r="1.5" fill="#e02a2a"/>
<path d="M90,-41 L99,-38 M90,41 L99,38" stroke="#e0281c" stroke-width="2.5"/>
<text transform="translate(-53,0) rotate(-90)" text-anchor="middle" font-size="13" fill="#f2f2f2" textLength="52" lengthAdjust="spacingAndGlyphs">POLICE</text>
<text transform="translate(-37,0) rotate(-90)" text-anchor="middle" font-size="17" font-weight="700" fill="#fff" textLength="52" lengthAdjust="spacingAndGlyphs">20216</text>
<circle cx="24" cy="21" r="22" fill="url(#glowB)"/>
<circle cx="24" cy="-20" r="20" fill="url(#glowR)"/>
<rect x="20" y="-26" width="9" height="52" rx="4.5" fill="#f2f2f2"/>
<path d="M20,21.5 Q20,26 24.5,26 Q29,26 29,21.5 L29,10 L20,10 Z" fill="#38b8ff"/>
<path d="M20,-21.5 Q20,-26 24.5,-26 Q29,-26 29,-21.5 L29,-12 L20,-12 Z" fill="#ff2020"/>
<path d="M44,-42 L47,-49 M44,42 L47,49" stroke="#f0f0f0" stroke-width="2.2"/>
</g>
<g transform="translate(318.7,1444.6) rotate(60) scale(0.9)" opacity="0.15"><path d="M5,-12.5 A13,13 0 1 0 5,12.5" stroke="#000" stroke-width="10" stroke-linecap="round" fill="none"/><circle r="8"/></g>
<g transform="translate(323.7,1437.6) rotate(60) scale(0.9)">
<circle cx="8.5" cy="-12.5" r="2.6" fill="#f3c0b0"/><circle cx="8.5" cy="12.5" r="2.6" fill="#f3c0b0"/>
<path d="M5,-12.5 A13,13 0 1 0 5,12.5" stroke="#35b54a" stroke-width="9.5" stroke-linecap="round" fill="none"/>
<path d="M-9,-9 A13,13 0 0 0 -9,9" stroke="#000" stroke-opacity="0.12" stroke-width="9.5" fill="none"/>
<ellipse cx="0" cy="0" rx="8" ry="8.4" fill="#1c3a1c"/>
</g>
<g transform="translate(477.6,1444.6) rotate(21) scale(0.9)" opacity="0.15"><path d="M5,-12.5 A13,13 0 1 0 5,12.5" stroke="#000" stroke-width="10" stroke-linecap="round" fill="none"/><circle r="8"/></g>
<g transform="translate(482.6,1437.6) rotate(21) scale(0.9)">
<circle cx="8.5" cy="-12.5" r="2.6" fill="#f3c0b0"/><circle cx="8.5" cy="12.5" r="2.6" fill="#f3c0b0"/>
<path d="M5,-12.5 A13,13 0 1 0 5,12.5" stroke="#2a9be0" stroke-width="9.5" stroke-linecap="round" fill="none"/>
<path d="M-9,-9 A13,13 0 0 0 -9,9" stroke="#000" stroke-opacity="0.12" stroke-width="9.5" fill="none"/>
<ellipse cx="0" cy="0" rx="8" ry="8.4" fill="#14183c"/>
</g>
<g transform="translate(775.8,1434.2) rotate(90) scale(0.9)" opacity="0.15"><path d="M5,-12.5 A13,13 0 1 0 5,12.5" stroke="#000" stroke-width="10" stroke-linecap="round" fill="none"/><circle r="8"/></g>
<g transform="translate(780.8,1427.2) rotate(90) scale(0.9)">
<circle cx="8.5" cy="-12.5" r="2.6" fill="#f3c0b0"/><circle cx="8.5" cy="12.5" r="2.6" fill="#f3c0b0"/>
<path d="M5,-12.5 A13,13 0 1 0 5,12.5" stroke="#a8581c" stroke-width="9.5" stroke-linecap="round" fill="none"/>
<path d="M-9,-9 A13,13 0 0 0 -9,9" stroke="#000" stroke-opacity="0.12" stroke-width="9.5" fill="none"/>
<ellipse cx="0" cy="0" rx="8" ry="8.4" fill="#0c0c0c"/>
</g>
<g transform="translate(983,1431.9) rotate(70) scale(0.9)" opacity="0.15"><path d="M5,-12.5 A13,13 0 1 0 5,12.5" stroke="#000" stroke-width="10" stroke-linecap="round" fill="none"/><circle r="8"/></g>
<g transform="translate(988,1424.9) rotate(70) scale(0.9)">
<circle cx="8.5" cy="-12.5" r="2.6" fill="#f3c0b0"/><circle cx="8.5" cy="12.5" r="2.6" fill="#f3c0b0"/>
<path d="M5,-12.5 A13,13 0 1 0 5,12.5" stroke="#2b8fd8" stroke-width="9.5" stroke-linecap="round" fill="none"/>
<path d="M-9,-9 A13,13 0 0 0 -9,9" stroke="#000" stroke-opacity="0.12" stroke-width="9.5" fill="none"/>
<ellipse cx="0" cy="0" rx="8" ry="8.4" fill="#14183c"/>
</g>
<g transform="translate(1152.6,1433.3) rotate(109) scale(0.9)" opacity="0.15"><path d="M5,-12.5 A13,13 0 1 0 5,12.5" stroke="#000" stroke-width="10" stroke-linecap="round" fill="none"/><circle r="8"/></g>
<g transform="translate(1157.6,1426.3) rotate(109) scale(0.9)">
<circle cx="8.5" cy="-12.5" r="2.6" fill="#f3c0b0"/><circle cx="8.5" cy="12.5" r="2.6" fill="#f3c0b0"/>
<path d="M5,-12.5 A13,13 0 1 0 5,12.5" stroke="#2eb052" stroke-width="9.5" stroke-linecap="round" fill="none"/>
<path d="M-9,-9 A13,13 0 0 0 -9,9" stroke="#000" stroke-opacity="0.12" stroke-width="9.5" fill="none"/>
<ellipse cx="0" cy="0" rx="8" ry="8.4" fill="#3a2014"/>
</g>
<g transform="translate(1343.2,1445) rotate(30) scale(0.9)" opacity="0.15"><path d="M5,-12.5 A13,13 0 1 0 5,12.5" stroke="#000" stroke-width="10" stroke-linecap="round" fill="none"/><circle r="8"/></g>
<g transform="translate(1348.2,1438) rotate(30) scale(0.9)">
<circle cx="8.5" cy="-12.5" r="2.6" fill="#f3c0b0"/><circle cx="8.5" cy="12.5" r="2.6" fill="#f3c0b0"/>
<path d="M5,-12.5 A13,13 0 1 0 5,12.5" stroke="#e4262c" stroke-width="9.5" stroke-linecap="round" fill="none"/>
<path d="M-9,-9 A13,13 0 0 0 -9,9" stroke="#000" stroke-opacity="0.12" stroke-width="9.5" fill="none"/>
<ellipse cx="0" cy="0" rx="8" ry="8.4" fill="#3a1c10"/>
</g>
<g transform="translate(1493.6,1935.4) rotate(180) scale(0.9)" opacity="0.15"><path d="M5,-12.5 A13,13 0 1 0 5,12.5" stroke="#000" stroke-width="10" stroke-linecap="round" fill="none"/><circle r="8"/></g>
<g transform="translate(1498.6,1928.4) rotate(180) scale(0.9)">
<circle cx="8.5" cy="-12.5" r="2.6" fill="#f3c0b0"/><circle cx="8.5" cy="12.5" r="2.6" fill="#f3c0b0"/>
<path d="M5,-12.5 A13,13 0 1 0 5,12.5" stroke="#2eb052" stroke-width="9.5" stroke-linecap="round" fill="none"/>
<path d="M-9,-9 A13,13 0 0 0 -9,9" stroke="#000" stroke-opacity="0.12" stroke-width="9.5" fill="none"/>
<ellipse cx="0" cy="0" rx="8" ry="8.4" fill="#3a2014"/>
</g>
<g transform="translate(474,1928) rotate(90) scale(0.9)" opacity="0.15"><path d="M5,-12.5 A13,13 0 1 0 5,12.5" stroke="#000" stroke-width="10" stroke-linecap="round" fill="none"/><circle r="8"/></g>
<g transform="translate(479,1921) rotate(90) scale(0.9)">
<circle cx="8.5" cy="-12.5" r="2.6" fill="#f3c0b0"/><circle cx="8.5" cy="12.5" r="2.6" fill="#f3c0b0"/>
<path d="M5,-12.5 A13,13 0 1 0 5,12.5" stroke="#a8581c" stroke-width="9.5" stroke-linecap="round" fill="none"/>
<path d="M-9,-9 A13,13 0 0 0 -9,9" stroke="#000" stroke-opacity="0.12" stroke-width="9.5" fill="none"/>
<ellipse cx="0" cy="0" rx="8" ry="8.4" fill="#0c0c0c"/>
</g>
<polygon points="584.5,2035.0 636.2,2050.8 715.0,2129.5 643.0,2138.5" fill="#000" fill-opacity="0.13"/>
<path d="M598.0,2071.0 Q614.4,2083.0 634.2,2078.3 L598.0,2071.0 Z" fill="#74822a"/>
<path d="M598.0,2071.0 Q617.8,2066.3 634.2,2078.3 L598.0,2071.0 Z" fill="#93a233"/>
<path d="M598.0,2071.0 Q603.7,2091.8 622.7,2102.0 L598.0,2071.0 Z" fill="#74822a"/>
<path d="M598.0,2071.0 Q617.0,2081.2 622.7,2102.0 L598.0,2071.0 Z" fill="#93a233"/>
<path d="M598.0,2071.0 Q589.0,2091.9 596.9,2113.3 L598.0,2071.0 Z" fill="#74822a"/>
<path d="M598.0,2071.0 Q606.0,2092.4 596.9,2113.3 L598.0,2071.0 Z" fill="#93a233"/>
<path d="M598.0,2071.0 Q576.7,2082.2 568.2,2104.7 L598.0,2071.0 Z" fill="#74822a"/>
<path d="M598.0,2071.0 Q589.5,2093.5 568.2,2104.7 L598.0,2071.0 Z" fill="#93a233"/>
<path d="M598.0,2071.0 Q578.5,2065.3 561.5,2076.5 L598.0,2071.0 Z" fill="#74822a"/>
<path d="M598.0,2071.0 Q581.0,2082.1 561.5,2076.5 L598.0,2071.0 Z" fill="#93a233"/>
<path d="M598.0,2071.0 Q585.5,2053.4 564.2,2050.3 L598.0,2071.0 Z" fill="#74822a"/>
<path d="M598.0,2071.0 Q576.7,2067.9 564.2,2050.3 L598.0,2071.0 Z" fill="#93a233"/>
<path d="M598.0,2071.0 Q599.3,2048.2 584.5,2030.9 L598.0,2071.0 Z" fill="#74822a"/>
<path d="M598.0,2071.0 Q583.2,2053.7 584.5,2030.9 L598.0,2071.0 Z" fill="#93a233"/>
<path d="M598.0,2071.0 Q614.1,2053.2 614.5,2029.1 L598.0,2071.0 Z" fill="#74822a"/>
<path d="M598.0,2071.0 Q598.3,2047.0 614.5,2029.1 L598.0,2071.0 Z" fill="#93a233"/>
<path d="M598.0,2071.0 Q618.3,2069.7 630.4,2053.4 L598.0,2071.0 Z" fill="#74822a"/>
<path d="M598.0,2071.0 Q610.1,2054.7 630.4,2053.4 L598.0,2071.0 Z" fill="#93a233"/>
<polygon points="996.8,2028.8 1047.4,2044.2 1124.4,2121.2 1054.0,2130.0" fill="#000" fill-opacity="0.13"/>
<path d="M1010.0,2064.0 Q1024.0,2078.2 1043.9,2076.4 L1010.0,2064.0 Z" fill="#74822a"/>
<path d="M1010.0,2064.0 Q1029.9,2062.2 1043.9,2076.4 L1010.0,2064.0 Z" fill="#93a233"/>
<path d="M1010.0,2064.0 Q1012.3,2085.0 1029.3,2097.6 L1010.0,2064.0 Z" fill="#74822a"/>
<path d="M1010.0,2064.0 Q1027.0,2076.5 1029.3,2097.6 L1010.0,2064.0 Z" fill="#93a233"/>
<path d="M1010.0,2064.0 Q998.0,2082.9 1002.8,2104.7 L1010.0,2064.0 Z" fill="#74822a"/>
<path d="M1010.0,2064.0 Q1014.8,2085.8 1002.8,2104.7 L1010.0,2064.0 Z" fill="#93a233"/>
<path d="M1010.0,2064.0 Q987.7,2071.6 976.3,2092.3 L1010.0,2064.0 Z" fill="#74822a"/>
<path d="M1010.0,2064.0 Q998.6,2084.6 976.3,2092.3 L1010.0,2064.0 Z" fill="#93a233"/>
<path d="M1010.0,2064.0 Q992.0,2055.5 973.9,2064.0 L1010.0,2064.0 Z" fill="#74822a"/>
<path d="M1010.0,2064.0 Q992.0,2072.5 973.9,2064.0 L1010.0,2064.0 Z" fill="#93a233"/>
<path d="M1010.0,2064.0 Q1000.7,2045.0 980.4,2039.1 L1010.0,2064.0 Z" fill="#74822a"/>
<path d="M1010.0,2064.0 Q989.7,2058.0 980.4,2039.1 L1010.0,2064.0 Z" fill="#93a233"/>
<path d="M1010.0,2064.0 Q1014.8,2042.2 1002.9,2023.3 L1010.0,2064.0 Z" fill="#74822a"/>
<path d="M1010.0,2064.0 Q998.1,2045.1 1002.9,2023.3 L1010.0,2064.0 Z" fill="#93a233"/>
<path d="M1010.0,2064.0 Q1028.4,2049.2 1032.0,2025.9 L1010.0,2064.0 Z" fill="#74822a"/>
<path d="M1010.0,2064.0 Q1013.7,2040.7 1032.0,2025.9 L1010.0,2064.0 Z" fill="#93a233"/>
<path d="M1010.0,2064.0 Q1029.9,2065.8 1043.9,2051.7 L1010.0,2064.0 Z" fill="#74822a"/>
<path d="M1010.0,2064.0 Q1024.1,2049.9 1043.9,2051.7 L1010.0,2064.0 Z" fill="#93a233"/>
<polygon points="1338.4,2013.0 1379.4,2033.5 1449.1,2105.3 1375.3,2113.5" fill="#000" fill-opacity="0.13"/>
<polygon points="1382.7,2052.0 1382.3,2059.0 1379.5,2065.5 1376.3,2071.5 1371.0,2075.9 1366.5,2080.6 1363.2,2087.8 1356.6,2090.8 1348.9,2088.5 1342.5,2088.9 1335.7,2090.8 1328.9,2089.3 1322.4,2086.7 1316.9,2082.5 1314.4,2075.6 1310.6,2070.4 1303.8,2066.1 1301.8,2059.2 1304.8,2052.0 1305.6,2045.5 1306.3,2038.8 1308.8,2032.5 1311.3,2025.8 1316.5,2021.0 1324.2,2020.3 1330.0,2017.6 1335.4,2011.8 1342.5,2011.0 1349.2,2014.1 1355.6,2016.1 1361.4,2019.3 1367.0,2022.8 1374.0,2025.5 1378.0,2031.5 1377.0,2039.5 1378.5,2045.6" fill="#7f9030"/>
<circle cx="1340.5" cy="2054" r="32.0" fill="#8fa336"/>
<path d="M1315.8,2060.2 q-2,-10 2,-16 q-2,-8 6,-10 q6,2 10,-2 M1338.4,2031.5 q6,-4 10,2 q6,-2 8,4 M1365.0,2037.7 q6,8 2,16 q4,8 -2,14 q0,8 -8,10" fill="none" stroke="#b4cc34" stroke-width="3.3" stroke-linejoin="round" stroke-linecap="round"/>
<polygon points="816.6,2040.5 845.6,2054.9 894.9,2105.7 842.7,2111.5" fill="#000" fill-opacity="0.13"/>
<polygon points="847.9,2068.0 847.7,2073.0 845.6,2077.5 843.4,2081.8 839.6,2084.9 836.5,2088.3 834.1,2093.3 829.5,2095.5 824.1,2093.8 819.5,2094.1 814.7,2095.4 809.9,2094.4 805.3,2092.6 801.4,2089.6 799.6,2084.7 796.9,2081.0 792.1,2078.0 790.7,2073.1 792.8,2068.0 793.4,2063.4 793.9,2058.7 795.7,2054.2 797.4,2049.5 801.1,2046.0 806.6,2045.6 810.6,2043.7 814.5,2039.6 819.5,2039.0 824.2,2041.2 828.7,2042.6 832.9,2044.9 836.8,2047.4 841.8,2049.3 844.6,2053.5 843.9,2059.1 845.0,2063.5" fill="#7f9030"/>
<circle cx="817.5" cy="2070" r="22.6" fill="#8fa336"/>
<path d="M800.6,2073.8 q-2,-10 2,-16 q-2,-8 6,-10 q6,2 10,-2 M816.6,2053.5 q6,-4 10,2 q6,-2 8,4 M835.5,2057.8 q6,8 2,16 q4,8 -2,14 q0,8 -8,10" fill="none" stroke="#b4cc34" stroke-width="2.3" stroke-linejoin="round" stroke-linecap="round"/>
<polygon points="1581.4,2030.4 1629.7,2045.1 1703.2,2118.6 1636.0,2127.0" fill="#000" fill-opacity="0.13"/>
<path d="M1594.0,2064.0 Q1605.0,2079.7 1624.2,2080.5 L1594.0,2064.0 Z" fill="#74822a"/>
<path d="M1594.0,2064.0 Q1613.2,2064.8 1624.2,2080.5 L1594.0,2064.0 Z" fill="#93a233"/>
<path d="M1594.0,2064.0 Q1592.8,2084.3 1607.5,2098.4 L1594.0,2064.0 Z" fill="#74822a"/>
<path d="M1594.0,2064.0 Q1608.6,2078.1 1607.5,2098.4 L1594.0,2064.0 Z" fill="#93a233"/>
<path d="M1594.0,2064.0 Q1579.6,2080.0 1581.4,2101.4 L1594.0,2064.0 Z" fill="#74822a"/>
<path d="M1594.0,2064.0 Q1595.7,2085.4 1581.4,2101.4 L1594.0,2064.0 Z" fill="#93a233"/>
<path d="M1594.0,2064.0 Q1571.6,2067.7 1558.1,2085.9 L1594.0,2064.0 Z" fill="#74822a"/>
<path d="M1594.0,2064.0 Q1580.5,2082.2 1558.1,2085.9 L1594.0,2064.0 Z" fill="#93a233"/>
<path d="M1594.0,2064.0 Q1578.3,2053.0 1560.0,2058.8 L1594.0,2064.0 Z" fill="#74822a"/>
<path d="M1594.0,2064.0 Q1575.7,2069.8 1560.0,2058.8 L1594.0,2064.0 Z" fill="#93a233"/>
<path d="M1594.0,2064.0 Q1588.2,2044.5 1569.6,2036.3 L1594.0,2064.0 Z" fill="#74822a"/>
<path d="M1594.0,2064.0 Q1575.4,2055.7 1569.6,2036.3 L1594.0,2064.0 Z" fill="#93a233"/>
<path d="M1594.0,2064.0 Q1602.0,2044.1 1593.1,2024.5 L1594.0,2064.0 Z" fill="#74822a"/>
<path d="M1594.0,2064.0 Q1585.0,2044.5 1593.1,2024.5 L1594.0,2064.0 Z" fill="#93a233"/>
<path d="M1594.0,2064.0 Q1613.8,2052.9 1620.2,2031.2 L1594.0,2064.0 Z" fill="#74822a"/>
<path d="M1594.0,2064.0 Q1600.5,2042.3 1620.2,2031.2 L1594.0,2064.0 Z" fill="#93a233"/>
<path d="M1594.0,2064.0 Q1612.6,2068.9 1627.8,2057.2 L1594.0,2064.0 Z" fill="#74822a"/>
<path d="M1594.0,2064.0 Q1609.2,2052.3 1627.8,2057.2 L1594.0,2064.0 Z" fill="#93a233"/>
<polygon points="242.4,1996.1 273.3,1987 288.1,2038.6 256.6,2048.9" fill="#2d2c2c"/>
<polygon points="255.3,2045 286.9,2035 288.3,2039.5 256.8,2049.5" fill="#0c0c0c"/>
<polygon points="263,2070.8 293.9,2063 298.4,2079 267.5,2079" fill="#2b2a2a"/>
<polygon points="262.5,2068 293,2060 294.2,2064.5 263.8,2072.5" fill="#0c0c0c"/>
<path d="M420,2017.3 L215,2074.1" stroke="url(#boom)" stroke-width="24" fill="none"/>
<path d="M456,1930.5 L639.7,1883 M476,1937 L628,1893 M493.8,2068.2 L675.7,2020.7 M508,2055 L660,2017" stroke="#232323" stroke-width="4.5" stroke-linecap="round" fill="none"/>
<path d="M476,1927 L477,1937 M567,1903 L568,1913 M628,1888 Q640,1888 630,1893 M520,2052 L521,2061 M600,2031 L601,2041 M660,2017 Q672,2016 668,2022" stroke="#232323" stroke-width="3.5" fill="none"/>
<g transform="translate(570.5,1974) rotate(-13.4)">
<path d="M-171,2 C-168,-34 -70,-62 30,-64 C118,-66 174,-40 174,-2 C174,38 118,66 30,64 C-70,62 -168,36 -171,2 Z" fill="#262627"/>
<path d="M-170,2 C-167,-32 -70,-59 28,-60 C110,-61 163,-36 164,-1 C163,34 110,61 28,60 C-70,59 -167,34 -170,2 Z" fill="url(#hred)"/>
<path d="M70,0 L160,-17 Q164,0 160,15 Z" fill="#ee6a66" fill-opacity="0.8"/>
<path d="M36,-55 Q84,-58 110,-42 Q124,0 110,42 Q84,58 36,55 Q24,0 36,-55 Z" fill="url(#hglass)"/>
<path d="M36,-55 Q62,-57 76,-52 Q62,0 76,52 Q62,57 36,55 Q24,0 36,-55 Z" fill="#a2a2a6" fill-opacity="0.6"/>
<path d="M34,0 L116,0" stroke="#f05a34" stroke-width="4.5"/>
<path d="M36,55 Q24,0 36,-55" fill="none" stroke="#2a2a2b" stroke-width="5"/>
<path d="M-52,-47 Q-30,-54 2,-55 L-2,-44 Q-30,-43 -50,-39 Z" fill="#d2d2d4"/>
<path d="M-20,49 Q-6,52 6,52 L4,44 Q-8,44 -16,43 Z" fill="#d2d2d4"/>
<path d="M-6,-42 L30,-52 Q40,-52 41,-44 Q32,0 41,44 Q40,52 30,52 L-6,42 Q10,0 -6,-42 Z" fill="#e4222a"/>
<path d="M10,-38 Q26,-44 31,-43 Q33,-34 31,-25 Q18,-30 10,-38 Z M10,38 Q26,44 31,43 Q33,34 31,25 Q18,30 10,38 Z" fill="#c4c4c8"/>
<path d="M-168,6 Q-150,-24 -60,-36 Q2,-42 16,-22 Q24,0 16,22 Q2,40 -60,37 Q-150,32 -168,6 Z" fill="#e0d6d8"/>
<path d="M-162,6 Q-146,-19 -60,-30 Q-4,-34 8,-17 Q14,0 8,17 Q-4,33 -60,31 Q-146,28 -162,6 Z" fill="#fbfbfb"/>
<path d="M-160,6 Q-144,-18 -60,-28 Q-6,-32 5,-16 Q11,0 5,16 Q-6,31 -60,29 Q-144,26 -160,6 Z" fill="none" stroke="#2a2a2a" stroke-width="2.6"/>
<text transform="translate(-62,-43) rotate(180)" text-anchor="middle" font-size="9.5" font-weight="700" fill="#fff" textLength="38" lengthAdjust="spacingAndGlyphs">NYPD</text>
<text transform="translate(-36,50) rotate(180)" text-anchor="middle" font-size="9.5" font-weight="700" fill="#fff" textLength="38" lengthAdjust="spacingAndGlyphs">NYPD</text>
<text transform="translate(-28,-20) rotate(180)" text-anchor="middle" font-size="8" font-weight="700" fill="#111" textLength="34" lengthAdjust="spacingAndGlyphs">155613</text>
<text transform="translate(-10,27) rotate(180)" text-anchor="middle" font-size="8" font-weight="700" fill="#111" textLength="26" lengthAdjust="spacingAndGlyphs">15561</text>
</g>
<polygon points="539.4,1982.9 495.4,1981.9 495.7,1973.9 539.6,1975.9" fill="#1e1e1e"/>
<polygon points="536.4,1983.8 525.4,1983.4 525.7,1974.4 536.7,1974.8" fill="#f4c418"/>
<polygon points="497.3,1986.0 277.4,1979.7 277.9,1961.7 497.8,1970.0" fill="#2b2b2b"/>
<polygon points="551.8,1969.4 574.7,1931.8 581.5,1936.0 557.8,1973.1" fill="#1e1e1e"/>
<polygon points="552.6,1966.3 558.4,1957.0 566.0,1961.7 560.2,1971.1" fill="#f4c418"/>
<polygon points="570.3,1931.4 686.0,1744.3 701.3,1753.8 583.8,1939.8" fill="#2b2b2b"/>
<polygon points="557.4,1986.8 579.0,2025.1 572.0,2028.9 551.3,1990.1" fill="#1e1e1e"/>
<polygon points="559.7,1988.9 565.0,1998.6 557.1,2002.9 551.8,1993.3" fill="#f4c418"/>
<polygon points="581.6,2021.4 620.0,2089.3 604.2,2098.0 567.5,2029.1" fill="#2b2b2b"/>
<polygon points="561.2,1986.5 549.5,1993.2 537.8,1986.5 537.8,1973.0 549.5,1966.2 561.2,1973.0" fill="#1c1c1c"/>
</g>
</svg>
<svg class="abs" style="left:0;top:0;pointer-events:none" width="1770" height="2243" viewBox="0 0 1770 2243" font-family="Liberation Sans, sans-serif">
<defs>
<linearGradient id="lg1" gradientUnits="userSpaceOnUse" x1="99" y1="0" x2="310" y2="0"><stop offset="0" stop-color="#9bbcc6"/><stop offset="0.4" stop-color="#97c4ba"/><stop offset="1" stop-color="#8cc6a8"/></linearGradient>
<clipPath id="cTop"><rect x="860" y="19" width="60" height="40"/></clipPath>
<clipPath id="cRight"><rect x="1720" y="1090" width="31" height="60"/></clipPath>
</defs>
<path d="M58.2,19 V42.8 M19,58.9 H42.8 M1711.9,19 V42.8 M1728,58.9 H1751 M1728,2184.7 H1751 M1711.9,2201 V2224" stroke="#fff" stroke-width="3.2" fill="none"/>
<path d="M58.2,0 V42 M58.2,2201 V2243 M1711.9,0 V42 M1711.9,2201 V2243 M0,58.9 H42 M1728,58.9 H1770 M0,2184.7 H42 M1728,2184.7 H1770" stroke="#231f20" stroke-width="1.5" fill="none"/>
<g clip-path="url(#cTop)"><circle cx="885.2" cy="21.4" r="15.8" fill="#fff"/><path d="M867.4000000000001,21.4 H903.0 M885.2,3.599999999999998 V39.2" stroke="#fff" stroke-width="3.4"/><circle cx="885.2" cy="21.4" r="11.1" fill="none" stroke="#08a5e2" stroke-width="1.3"/></g><circle cx="885.2" cy="21.4" r="14.3" fill="none" stroke="#0e0a0b" stroke-width="1.5"/><path d="M868.2,21.4 H902.2 M885.2,4.399999999999999 V38.4" stroke="#0e0a0b" stroke-width="1.5"/><circle cx="885.2" cy="21.4" r="8.3" fill="#000"/><path d="M876.9000000000001,21.4 H893.5 M885.2,13.099999999999998 V29.7" stroke="#d8d4d4" stroke-width="0.8"/>
<circle cx="885.8" cy="2221.4" r="14.3" fill="none" stroke="#0e0a0b" stroke-width="1.5"/><path d="M868.8,2221.4 H902.8 M885.8,2204.4 V2238.4" stroke="#0e0a0b" stroke-width="1.5"/><circle cx="885.8" cy="2221.4" r="8.3" fill="#000"/><path d="M877.5,2221.4 H894.0999999999999 M885.8,2213.1 V2229.7000000000003" stroke="#d8d4d4" stroke-width="0.8"/>
<circle cx="20.6" cy="1121.6" r="14.3" fill="none" stroke="#0e0a0b" stroke-width="1.5"/><path d="M3.6000000000000014,1121.6 H37.6 M20.6,1104.6 V1138.6" stroke="#0e0a0b" stroke-width="1.5"/><circle cx="20.6" cy="1121.6" r="8.3" fill="#000"/><path d="M12.3,1121.6 H28.900000000000002 M20.6,1113.3 V1129.8999999999999" stroke="#d8d4d4" stroke-width="0.8"/>
<g clip-path="url(#cRight)"><circle cx="1749.5" cy="1121.6" r="15.8" fill="#fff"/><path d="M1731.7,1121.6 H1767.3 M1749.5,1103.8 V1139.3999999999999" stroke="#fff" stroke-width="3.4"/><circle cx="1749.5" cy="1121.6" r="11.1" fill="none" stroke="#b7d8f2" stroke-width="1.3"/></g><circle cx="1749.5" cy="1121.6" r="14.3" fill="none" stroke="#0e0a0b" stroke-width="1.5"/><path d="M1732.5,1121.6 H1766.5 M1749.5,1104.6 V1138.6" stroke="#0e0a0b" stroke-width="1.5"/><circle cx="1749.5" cy="1121.6" r="8.3" fill="#000"/><path d="M1741.2,1121.6 H1757.8 M1749.5,1113.3 V1129.8999999999999" stroke="#d8d4d4" stroke-width="0.8"/>
<rect x="300.4" y="929.8" width="768" height="1.8" fill="#808080"/>
<path d="M270.5,899.9 a9.5,9.5 0 0 1 9.5,9.5 c0,5 -4.6,7.5 -5.6,16.4 h-7.8 c-1,-8.9 -5.6,-11.4 -5.6,-16.4 a9.5,9.5 0 0 1 9.5,-9.5 z" fill="#ecd000"/>
<path d="M266.8,925.6 h7.4 v3.6 q0,2.6 -3.7,2.6 q-3.7,0 -3.7,-2.6 z" fill="#9c9c9c"/>
<path d="M270,925 L269.6,911 Q269.8,908.5 272,907.5 M271.3,925 L271,912" stroke="#9a9a8c" stroke-width="0.9" fill="none"/>
<g fill="url(#lg1)" fill-opacity="0.92"><circle cx="107.9" cy="1972.8" r="7.0"/><circle cx="125.1" cy="1975.6" r="6.1"/><circle cx="142.6" cy="1978.3" r="6.2"/><circle cx="159.5" cy="1982.7" r="5.2"/><circle cx="175.8" cy="1989.6" r="4.1"/><circle cx="191.3" cy="1998.4" r="3.3"/><circle cx="205.4" cy="2008.6" r="3.2"/><circle cx="219.3" cy="2020.5" r="3.0"/><circle cx="220.4" cy="1998.0" r="3.3"/><circle cx="106.9" cy="1994.1" r="5.9"/><circle cx="125.4" cy="1994.9" r="5.3"/><circle cx="143.8" cy="1997.6" r="5.0"/><circle cx="160.8" cy="2003.3" r="4.1"/><circle cx="177.0" cy="2010.7" r="4.0"/><circle cx="191.9" cy="2020.8" r="3.0"/><circle cx="205.6" cy="2033.0" r="2.9"/><circle cx="106.3" cy="2013.6" r="5.5"/><circle cx="126.3" cy="2013.6" r="5.2"/><circle cx="145.9" cy="2017.7" r="4.1"/><circle cx="163.9" cy="2024.7" r="2.9"/></g>
<g fill="#5fb58c" fill-opacity="0.62"><circle cx="235.9" cy="1988.8" r="4.0"/><circle cx="252.0" cy="1982.7" r="5.3"/><circle cx="268.8" cy="1977.7" r="6.1"/><circle cx="286.1" cy="1974.8" r="6.1"/><circle cx="303.6" cy="1972.8" r="6.9"/><circle cx="268.2" cy="1996.9" r="5.0"/><circle cx="285.5" cy="1994.5" r="5.6"/><circle cx="304.5" cy="1993.8" r="5.8"/><circle cx="250.8" cy="2002.5" r="4.6"/><circle cx="234.8" cy="2010.1" r="4.0"/><circle cx="265.7" cy="2017.0" r="4.1"/><circle cx="285.8" cy="2013.2" r="5.3"/><circle cx="305.3" cy="2012.9" r="5.5"/><circle cx="247.5" cy="2024.3" r="2.7"/></g>
<path d="M131.8,2083.7 L104.4,2083.7 L104.4,2073.0 L112.7,2073.0 L112.7,2083.7 M104.4,2083.7 Q101.3,2084.0 101.3,2087.8 L100.1,2092.3 M140.1,2065.4 L140.1,2083.7 M131.8,2083.7 L203.3,2083.7 L203.3,2072.5 M191.9,2073.6 L177.4,2073.6 Q171.3,2073.6 171.3,2078.6 Q171.3,2083.7 177.4,2083.7 M214.0,2065.4 L214.0,2083.7 L203.3,2083.7 M226.9,2065.4 L226.9,2084.7 M242.1,2084.7 L242.1,2073.0 L254.3,2073.0 L254.3,2083.7 L240.6,2083.7 M265.0,2072.5 L265.0,2087.8 Q265.0,2091.6 261.9,2091.9 M273.0,2065.4 L273.0,2084.7 M282.5,2072.5 L282.5,2087.8 Q282.5,2091.6 279.4,2091.9 M307.6,2083.7 L293.9,2083.7 L293.9,2073.0 L307.6,2073.0 L307.6,2087.8 Q307.6,2091.9 303.0,2092.2" fill="none" stroke="url(#lg1)" stroke-width="3.1" stroke-opacity="0.92" stroke-linejoin="round"/>
<g fill="url(#lg1)" fill-opacity="0.92"><circle cx="123.4" cy="2091.6" r="1.9"/><circle cx="128.0" cy="2091.6" r="1.9"/><circle cx="204.1" cy="2067.5" r="1.9"/><circle cx="208.6" cy="2067.5" r="1.9"/><circle cx="247.5" cy="2067.5" r="1.9"/><circle cx="252.0" cy="2067.5" r="1.9"/><circle cx="283.2" cy="2067.5" r="1.9"/></g>
</svg>
<div class="t g" id="s0" style="top:284.99px;left:261.70px;">B.</div>
<div class="t r" id="s1" style="top:284.99px;left:300.40px;letter-spacing:0.466px;">Complete each sentence with the correct form of</div>
<div class="t bi" id="s2" style="top:284.99px;left:887.20px;letter-spacing:1.550px;">get</div>
<div class="t r" id="s3" style="top:284.99px;left:934.50px;letter-spacing:0.278px;">+ an adjective or past participle from the box.</div>
<div class="t rb" id="s4" style="top:347.49px;left:335.90px;letter-spacing:0.753px;">confused</div>
<div class="t rb" id="s5" style="top:384.29px;left:335.90px;letter-spacing:1.053px;">crowded</div>
<div class="t rb" id="s6" style="top:347.49px;left:535.90px;letter-spacing:1.041px;">dark</div>
<div class="t rb" id="s7" style="top:384.29px;left:535.90px;letter-spacing:0.569px;">dirty</div>
<div class="t rb" id="s8" style="top:347.49px;left:696.40px;letter-spacing:0.988px;">dizzy</div>
<div class="t rb" id="s9" style="top:384.29px;left:696.40px;letter-spacing:1.294px;">engaged</div>
<div class="t rb" id="s10" style="top:347.49px;left:913.60px;letter-spacing:0.502px;">excited</div>
<div class="t rb" id="s11" style="top:384.29px;left:913.60px;letter-spacing:0.738px;">frightened</div>
<div class="t rb" id="s12" style="top:347.49px;left:1146.30px;letter-spacing:0.731px;">rich</div>
<div class="t rb" id="s13" style="top:384.29px;left:1146.30px;letter-spacing:1.142px;">worried</div>
<div class="t b" id="s14" style="top:434.59px;right:1437.50px;">1.</div>
<div class="t b" id="s15" style="top:471.37px;right:1437.50px;">2.</div>
<div class="t b" id="s16" style="top:508.15px;right:1437.50px;">3.</div>
<div class="t b" id="s17" style="top:544.93px;right:1437.50px;">4.</div>
<div class="t b" id="s18" style="top:581.71px;right:1437.50px;">5.</div>
<div class="t b" id="s19" style="top:618.49px;right:1437.50px;">6.</div>
<div class="t b" id="s20" style="top:655.27px;right:1437.50px;">7.</div>
<div class="t b" id="s21" style="top:692.05px;right:1437.50px;">8.</div>
<div class="t b" id="s22" style="top:728.83px;right:1437.50px;">9.</div>
<div class="t b" id="s23" style="top:765.61px;right:1437.50px;">10.</div>
<div class="t r" id="s24" style="top:434.59px;left:353.40px;letter-spacing:0.322px;">Gisele was supposed to be home an hour ago. I’m</div>
<div class="t r" id="s25" style="top:434.59px;left:1295.40px;">.</div>
<div class="t r" id="s26" style="top:471.37px;left:353.40px;letter-spacing:0.245px;">I prefer to use the gym early in the morning. It</div>
<div class="t r" id="s27" style="top:471.37px;left:1243.80px;letter-spacing:0.411px;">in the afternoon.</div>
<div class="t r" id="s28" style="top:508.15px;left:353.40px;">I</div>
<div class="t r" id="s29" style="top:508.15px;left:714.20px;letter-spacing:0.446px;">and accidentally showed up for the appointment on the wrong day.</div>
<div class="t r" id="s30" style="top:544.93px;left:353.40px;letter-spacing:0.297px;">You know winter is coming when it starts</div>
<div class="t r" id="s31" style="top:544.93px;left:1185.90px;letter-spacing:0.108px;">earlier.</div>
<div class="t r" id="s32" style="top:581.71px;left:353.40px;letter-spacing:0.100px;">I think I may have the flu. I’m tired and I’m starting to</div>
<div class="t r" id="s33" style="top:581.71px;left:1309.90px;">.</div>
<div class="t r" id="s34" style="top:618.49px;left:353.40px;letter-spacing:-0.387px;">Kevin</div>
<div class="t r" id="s35" style="top:618.49px;left:772.90px;letter-spacing:0.252px;">when he was twenty-four and was married six months later.</div>
<div class="t r" id="s36" style="top:655.27px;left:353.40px;letter-spacing:0.350px;">We’re going on vacation next week. We’re</div>
<div class="t r" id="s37" style="top:655.27px;left:1207.10px;letter-spacing:0.236px;">about it.</div>
<div class="t r" id="s38" style="top:692.05px;left:353.40px;letter-spacing:0.396px;">I’d recommend not buying white shoes. They</div>
<div class="t r" id="s39" style="top:692.05px;left:1239.20px;letter-spacing:0.345px;">so quickly.</div>
<div class="t r" id="s40" style="top:728.83px;left:353.40px;letter-spacing:0.361px;">“Setting up your own business is a good way to</div>
<div class="t r" id="s41" style="top:728.83px;left:1260.40px;letter-spacing:0.205px;">, ” said the business man.</div>
<div class="t r" id="s42" style="top:765.61px;left:353.40px;letter-spacing:0.372px;">Dale</div>
<div class="t r" id="s43" style="top:765.61px;left:762.70px;letter-spacing:0.346px;">when he rides the roller coasters at the park.</div>
<div class="t g" id="s44" style="top:853.89px;left:261.70px;">C.</div>
<div class="t r" id="s45" style="top:853.89px;left:300.90px;letter-spacing:0.321px;">Finish each sentence with a</div>
<div class="t bi" id="s46" style="top:853.89px;left:636.70px;letter-spacing:-0.100px;">the</div>
<div class="t r" id="s47" style="top:853.89px;left:675.90px;letter-spacing:-1.236px;">...</div>
<div class="t bi" id="s48" style="top:853.89px;left:695.90px;letter-spacing:-0.300px;">the</div>
<div class="t r" id="s49" style="top:853.89px;left:741.80px;letter-spacing:0.341px;">comparative.</div>
<div class="t hw" id="s50" style="top:901.50px;left:304.82px;letter-spacing:0.776px;">The more money I make, the more computer games I buy.</div>
<div class="t b" id="s51" style="top:954.79px;right:1437.50px;">1.</div>
<div class="t r" id="s52" style="top:954.79px;left:353.40px;letter-spacing:-0.123px;">The more it rains,...</div>
<div class="t b" id="s53" style="top:991.67px;right:1437.50px;">2.</div>
<div class="t r" id="s54" style="top:991.67px;left:353.40px;letter-spacing:0.074px;">The better my English gets,...</div>
<div class="t b" id="s55" style="top:1028.55px;right:1437.50px;">3.</div>
<div class="t r" id="s56" style="top:1028.55px;left:353.40px;letter-spacing:-0.029px;">The more TV I watch,...</div>
<div class="t b" id="s57" style="top:1065.43px;right:1437.50px;">4.</div>
<div class="t r" id="s58" style="top:1065.43px;left:353.40px;letter-spacing:-0.025px;">The earlier the class,...</div>
<div class="t b" id="s59" style="top:1102.31px;right:1437.50px;">5.</div>
<div class="t r" id="s60" style="top:1102.31px;left:353.40px;letter-spacing:0.027px;">The farther we run,...</div>
<div class="t b" id="s61" style="top:954.79px;right:934.30px;">6.</div>
<div class="t r" id="s62" style="top:954.79px;left:855.90px;letter-spacing:0.000px;">The richer you are,...</div>
<div class="t b" id="s63" style="top:991.67px;right:934.30px;">7.</div>
<div class="t r" id="s64" style="top:991.67px;left:855.90px;letter-spacing:0.035px;">The older I get,...</div>
<div class="t b" id="s65" style="top:1028.55px;right:934.30px;">8.</div>
<div class="t r" id="s66" style="top:1028.55px;left:855.90px;letter-spacing:0.119px;">The more sleep I get,...</div>
<div class="t b" id="s67" style="top:1065.43px;right:934.30px;">9.</div>
<div class="t r" id="s68" style="top:1065.43px;left:855.90px;letter-spacing:0.182px;">The warmer the weather gets,...</div>
<div class="t b" id="s69" style="top:1102.31px;right:934.30px;">10.</div>
<div class="t r" id="s70" style="top:1102.31px;left:855.90px;letter-spacing:0.231px;">The quicker we work,...</div>
<div class="t g" id="s71" style="top:1189.69px;left:261.70px;">D.</div>
<div class="t r" id="s72" style="top:1189.69px;left:300.90px;letter-spacing:0.279px;">Write a story about the picture. Use past and present participial adjectives,</div>
<div class="t bi" id="s73" style="top:1226.89px;left:301.70px;letter-spacing:1.000px;">get</div>
<div class="t r" id="s74" style="top:1226.89px;left:349.30px;letter-spacing:0.186px;">+ adjective,</div>
<div class="t bi" id="s75" style="top:1226.89px;left:489.80px;letter-spacing:0.850px;">get</div>
<div class="t r" id="s76" style="top:1226.89px;left:536.20px;letter-spacing:0.269px;">+ past participle, and</div>
<div class="t bi" id="s77" style="top:1226.89px;left:788.60px;letter-spacing:0.150px;">the</div>
<div class="t r" id="s78" style="top:1226.89px;left:828.40px;letter-spacing:-1.786px;">...</div>
<div class="t bi" id="s79" style="top:1226.89px;left:847.40px;letter-spacing:0.350px;">the</div>
<div class="t r" id="s80" style="top:1226.89px;left:893.70px;letter-spacing:0.238px;">comparatives.</div>
<div class="t ft" id="s81" style="top:2212.56px;left:85.82px;letter-spacing:0.755px;">MG_02_COMBO_TEXT_2025.indb   137</div>
<div class="t ft" id="s82" style="top:2212.56px;left:1560.82px;letter-spacing:0.547px;">24/4/25   10:10 PM</div>
<div class="t pn" id="s83" style="top:2109.70px;left:1544.08px;letter-spacing:-0.236px;">137</div>
<div class="t mn" id="s84" style="top:2104.72px;left:98.78px;letter-spacing:1.704px;">Ministry of Education</div>
<div class="t mn2" id="s85" style="top:2131.21px;left:98.80px;letter-spacing:0.564px;">2025 - 1447</div>
<div class="bl" style="left:954.3px;top:458.8px;width:340px"></div>
<div class="bl" style="left:897.3px;top:495.6px;width:340px"></div>
<div class="bl" style="left:366.8px;top:532.4px;width:340px"></div>
<div class="bl" style="left:838.6px;top:569.1px;width:340px"></div>
<div class="bl" style="left:970.3px;top:605.9px;width:340px"></div>
<div class="bl" style="left:424.7px;top:642.7px;width:340px"></div>
<div class="bl" style="left:859.5px;top:679.5px;width:340px"></div>
<div class="bl" style="left:892.0px;top:716.3px;width:340px"></div>
<div class="bl" style="left:920.9px;top:753.0px;width:340px"></div>
<div class="bl" style="left:415.8px;top:789.8px;width:340px"></div>
</body>
</html>
